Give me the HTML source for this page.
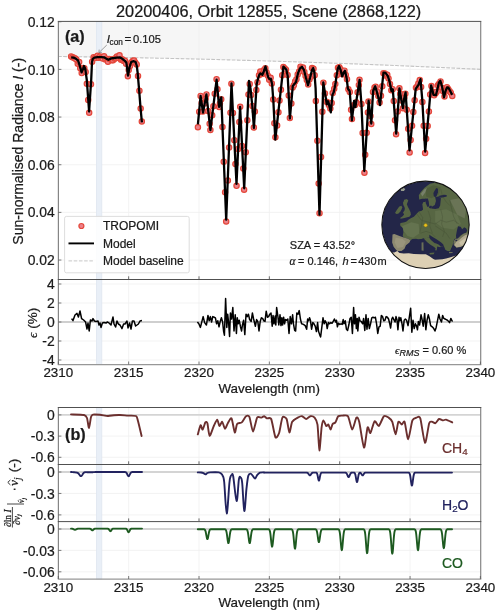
<!DOCTYPE html><html><head><meta charset="utf-8"><style>html,body{margin:0;padding:0;background:#fff;}svg{display:block;will-change:transform;}</style></head><body>
<svg width="500" height="616" viewBox="0 0 500 616" font-family='"Liberation Sans", sans-serif'>
<rect width="500" height="616" fill="#fff"/>
<defs><clipPath id="ca"><rect x="58.4" y="21.4" width="422.3" height="258.1"/></clipPath>
<clipPath id="cr"><rect x="58.4" y="279.5" width="422.3" height="85.0"/></clipPath>
<clipPath id="cg"><circle cx="247.3" cy="254.5" r="237.5"/></clipPath></defs>
<text x="268.6" y="16.8" font-size="16.3" text-anchor="middle" fill="#1a1a1a"  stroke="#1a1a1a" stroke-width="0.22">20200406, Orbit 12855, Scene (2868,122)</text>
<polygon points="58.4,21.4 480.7,21.4 480.7,69.35 470.14,68.84 459.58,68.35 449.03,67.86 438.47,67.38 427.91,66.92 417.36,66.46 406.8,66.01 396.24,65.57 385.68,65.14 375.12,64.72 364.57,64.31 354.01,63.91 343.45,63.52 332.89,63.14 322.34,62.76 311.78,62.4 301.22,62.04 290.67,61.7 280.11,61.36 269.55,61.04 258.99,60.72 248.44,60.41 237.88,60.11 227.32,59.83 216.76,59.55 206.21,59.28 195.65,59.02 185.09,58.76 174.53,58.52 163.97,58.29 153.42,58.07 142.86,57.85 132.3,57.65 121.75,57.45 111.19,57.27 100.63,57.09 90.07,56.93 79.52,56.77 68.96,56.62 58.4,56.48" fill="#f6f6f6"/>
<line x1="58.4" x2="480.7" y1="69.4" y2="69.4" stroke="#f0f0f0" stroke-width="0.8"/>
<line x1="58.4" x2="480.7" y1="117.06" y2="117.06" stroke="#f0f0f0" stroke-width="0.8"/>
<line x1="58.4" x2="480.7" y1="164.72" y2="164.72" stroke="#f0f0f0" stroke-width="0.8"/>
<line x1="58.4" x2="480.7" y1="212.38" y2="212.38" stroke="#f0f0f0" stroke-width="0.8"/>
<line x1="58.4" x2="480.7" y1="260.04" y2="260.04" stroke="#f0f0f0" stroke-width="0.8"/>
<line x1="128.65" x2="128.65" y1="21.4" y2="279.5" stroke="#f0f0f0" stroke-width="0.8"/>
<line x1="128.65" x2="128.65" y1="279.5" y2="364.5" stroke="#f0f0f0" stroke-width="0.8"/>
<line x1="128.65" x2="128.65" y1="407.5" y2="579.0" stroke="#f0f0f0" stroke-width="0.8"/>
<line x1="199" x2="199" y1="21.4" y2="279.5" stroke="#f0f0f0" stroke-width="0.8"/>
<line x1="199" x2="199" y1="279.5" y2="364.5" stroke="#f0f0f0" stroke-width="0.8"/>
<line x1="199" x2="199" y1="407.5" y2="579.0" stroke="#f0f0f0" stroke-width="0.8"/>
<line x1="269.35" x2="269.35" y1="21.4" y2="279.5" stroke="#f0f0f0" stroke-width="0.8"/>
<line x1="269.35" x2="269.35" y1="279.5" y2="364.5" stroke="#f0f0f0" stroke-width="0.8"/>
<line x1="269.35" x2="269.35" y1="407.5" y2="579.0" stroke="#f0f0f0" stroke-width="0.8"/>
<line x1="339.7" x2="339.7" y1="21.4" y2="279.5" stroke="#f0f0f0" stroke-width="0.8"/>
<line x1="339.7" x2="339.7" y1="279.5" y2="364.5" stroke="#f0f0f0" stroke-width="0.8"/>
<line x1="339.7" x2="339.7" y1="407.5" y2="579.0" stroke="#f0f0f0" stroke-width="0.8"/>
<line x1="410.05" x2="410.05" y1="21.4" y2="279.5" stroke="#f0f0f0" stroke-width="0.8"/>
<line x1="410.05" x2="410.05" y1="279.5" y2="364.5" stroke="#f0f0f0" stroke-width="0.8"/>
<line x1="410.05" x2="410.05" y1="407.5" y2="579.0" stroke="#f0f0f0" stroke-width="0.8"/>
<line x1="58.4" x2="480.7" y1="284" y2="284" stroke="#f0f0f0" stroke-width="0.8"/>
<line x1="58.4" x2="480.7" y1="303" y2="303" stroke="#f0f0f0" stroke-width="0.8"/>
<line x1="58.4" x2="480.7" y1="341" y2="341" stroke="#f0f0f0" stroke-width="0.8"/>
<line x1="58.4" x2="480.7" y1="360" y2="360" stroke="#f0f0f0" stroke-width="0.8"/>
<line x1="58.4" x2="480.7" y1="436.1" y2="436.1" stroke="#f0f0f0" stroke-width="0.8"/>
<line x1="58.4" x2="480.7" y1="457.3" y2="457.3" stroke="#f0f0f0" stroke-width="0.8"/>
<line x1="58.4" x2="480.7" y1="493.45" y2="493.45" stroke="#f0f0f0" stroke-width="0.8"/>
<line x1="58.4" x2="480.7" y1="514.9" y2="514.9" stroke="#f0f0f0" stroke-width="0.8"/>
<line x1="58.4" x2="480.7" y1="550.4" y2="550.4" stroke="#f0f0f0" stroke-width="0.8"/>
<line x1="58.4" x2="480.7" y1="571.8" y2="571.8" stroke="#f0f0f0" stroke-width="0.8"/>
<rect x="96.4" y="21.4" width="5.4" height="258.1" fill="#e9eff7" stroke="#dfe6f0" stroke-width="0.8"/>
<rect x="96.4" y="279.5" width="5.4" height="85.0" fill="#e9eff7" stroke="#dfe6f0" stroke-width="0.8"/>
<rect x="96.4" y="407.5" width="5.4" height="171.5" fill="#e9eff7" stroke="#dfe6f0" stroke-width="0.8"/>
<polyline points="58.4,56.48 68.96,56.62 79.52,56.77 90.07,56.93 100.63,57.09 111.19,57.27 121.75,57.45 132.3,57.65 142.86,57.85 153.42,58.07 163.97,58.29 174.53,58.52 185.09,58.76 195.65,59.02 206.21,59.28 216.76,59.55 227.32,59.83 237.88,60.11 248.44,60.41 258.99,60.72 269.55,61.04 280.11,61.36 290.67,61.7 301.22,62.04 311.78,62.4 322.34,62.76 332.89,63.14 343.45,63.52 354.01,63.91 364.57,64.31 375.12,64.72 385.68,65.14 396.24,65.57 406.8,66.01 417.36,66.46 427.91,66.92 438.47,67.38 449.03,67.86 459.58,68.35 470.14,68.84 480.7,69.35" fill="none" stroke="#c4c4c4" stroke-width="1.1" stroke-dasharray="3.75,1.36" stroke-dashoffset="-4.73"/>
<g clip-path="url(#ca)">
<g fill="#ec808a" stroke="#e4473a" stroke-width="1.2">
<circle cx="71.12" cy="56.38" r="2.65"/>
<circle cx="72.54" cy="57.22" r="2.65"/>
<circle cx="73.86" cy="57.87" r="2.65"/>
<circle cx="75.23" cy="58.44" r="2.65"/>
<circle cx="76.36" cy="59.51" r="2.65"/>
<circle cx="77.74" cy="63.81" r="2.65"/>
<circle cx="79.16" cy="62.01" r="2.65"/>
<circle cx="80.26" cy="68.19" r="2.65"/>
<circle cx="81.71" cy="73.12" r="2.65"/>
<circle cx="83.06" cy="67.95" r="2.65"/>
<circle cx="84.34" cy="68.29" r="2.65"/>
<circle cx="85.63" cy="72.04" r="2.65"/>
<circle cx="86.85" cy="83.68" r="2.65"/>
<circle cx="88.21" cy="99.88" r="2.65"/>
<circle cx="89.17" cy="112.76" r="2.65"/>
<circle cx="90.97" cy="84.22" r="2.65"/>
<circle cx="92.12" cy="61.78" r="2.65"/>
<circle cx="93.59" cy="57.17" r="2.65"/>
<circle cx="94.88" cy="58.04" r="2.65"/>
<circle cx="95.99" cy="57.73" r="2.65"/>
<circle cx="97.52" cy="55.81" r="2.65"/>
<circle cx="98.63" cy="57.8" r="2.65"/>
<circle cx="100.01" cy="56.43" r="2.65"/>
<circle cx="101.34" cy="57.87" r="2.65"/>
<circle cx="102.65" cy="58.62" r="2.65"/>
<circle cx="104.06" cy="56.35" r="2.65"/>
<circle cx="105.35" cy="59.62" r="2.65"/>
<circle cx="106.45" cy="58.63" r="2.65"/>
<circle cx="107.97" cy="61.81" r="2.65"/>
<circle cx="109.19" cy="58.89" r="2.65"/>
<circle cx="110.54" cy="59.26" r="2.65"/>
<circle cx="111.81" cy="60.34" r="2.65"/>
<circle cx="113.03" cy="60.15" r="2.65"/>
<circle cx="114.55" cy="58.84" r="2.65"/>
<circle cx="115.59" cy="58.13" r="2.65"/>
<circle cx="116.92" cy="56.51" r="2.65"/>
<circle cx="118.27" cy="57.77" r="2.65"/>
<circle cx="119.51" cy="55.2" r="2.65"/>
<circle cx="120.99" cy="59.64" r="2.65"/>
<circle cx="122.21" cy="59.21" r="2.65"/>
<circle cx="123.68" cy="61.07" r="2.65"/>
<circle cx="125.03" cy="60.74" r="2.65"/>
<circle cx="126.13" cy="63.85" r="2.65"/>
<circle cx="127.86" cy="76.29" r="2.65"/>
<circle cx="128.72" cy="69.89" r="2.65"/>
<circle cx="130.01" cy="66.08" r="2.65"/>
<circle cx="131.29" cy="62.57" r="2.65"/>
<circle cx="132.87" cy="60.78" r="2.65"/>
<circle cx="134.16" cy="60.5" r="2.65"/>
<circle cx="135.36" cy="62.75" r="2.65"/>
<circle cx="136.71" cy="64.38" r="2.65"/>
<circle cx="138.01" cy="75.88" r="2.65"/>
<circle cx="139.41" cy="90.69" r="2.65"/>
<circle cx="140.66" cy="108.6" r="2.65"/>
<circle cx="141.82" cy="121.44" r="2.65"/>
<circle cx="197.91" cy="127.18" r="2.65"/>
<circle cx="199.21" cy="111.74" r="2.65"/>
<circle cx="200.62" cy="95.88" r="2.65"/>
<circle cx="201.65" cy="102.98" r="2.65"/>
<circle cx="202.87" cy="111.57" r="2.65"/>
<circle cx="204.43" cy="103.55" r="2.65"/>
<circle cx="205.64" cy="98.58" r="2.65"/>
<circle cx="206.46" cy="94.38" r="2.65"/>
<circle cx="208.15" cy="110.99" r="2.65"/>
<circle cx="209.63" cy="123.65" r="2.65"/>
<circle cx="210.39" cy="130.01" r="2.65"/>
<circle cx="212.2" cy="115.32" r="2.65"/>
<circle cx="213.41" cy="106.15" r="2.65"/>
<circle cx="214.73" cy="93.86" r="2.65"/>
<circle cx="216.56" cy="79.17" r="2.65"/>
<circle cx="217.44" cy="89.36" r="2.65"/>
<circle cx="219.17" cy="107.04" r="2.65"/>
<circle cx="219.9" cy="103.44" r="2.65"/>
<circle cx="221.22" cy="99.26" r="2.65"/>
<circle cx="222.46" cy="127" r="2.65"/>
<circle cx="223.73" cy="161.65" r="2.65"/>
<circle cx="225.09" cy="192.34" r="2.65"/>
<circle cx="226.18" cy="221.5" r="2.65"/>
<circle cx="227.85" cy="180.57" r="2.65"/>
<circle cx="229.08" cy="147.62" r="2.65"/>
<circle cx="230.45" cy="112.66" r="2.65"/>
<circle cx="231.39" cy="83.74" r="2.65"/>
<circle cx="232.94" cy="112.96" r="2.65"/>
<circle cx="234.33" cy="140.15" r="2.65"/>
<circle cx="235.43" cy="163.99" r="2.65"/>
<circle cx="236.54" cy="185.86" r="2.65"/>
<circle cx="238.21" cy="148.9" r="2.65"/>
<circle cx="239.36" cy="121.96" r="2.65"/>
<circle cx="240.19" cy="106.77" r="2.65"/>
<circle cx="241.99" cy="145.89" r="2.65"/>
<circle cx="243.29" cy="168.56" r="2.65"/>
<circle cx="244.1" cy="189.63" r="2.65"/>
<circle cx="245.76" cy="152.26" r="2.65"/>
<circle cx="247.35" cy="120.32" r="2.65"/>
<circle cx="248.48" cy="94.47" r="2.65"/>
<circle cx="249.71" cy="84.11" r="2.65"/>
<circle cx="251.17" cy="95.06" r="2.65"/>
<circle cx="252.4" cy="105.89" r="2.65"/>
<circle cx="253.84" cy="127.57" r="2.65"/>
<circle cx="254.86" cy="111.57" r="2.65"/>
<circle cx="256.31" cy="90.06" r="2.65"/>
<circle cx="257.45" cy="82.35" r="2.65"/>
<circle cx="259" cy="75.2" r="2.65"/>
<circle cx="260.3" cy="71.51" r="2.65"/>
<circle cx="261.59" cy="73.92" r="2.65"/>
<circle cx="262.85" cy="73.83" r="2.65"/>
<circle cx="263.97" cy="70.11" r="2.65"/>
<circle cx="265.37" cy="68.33" r="2.65"/>
<circle cx="266.64" cy="72.55" r="2.65"/>
<circle cx="267.91" cy="75.87" r="2.65"/>
<circle cx="269.19" cy="79.63" r="2.65"/>
<circle cx="270.64" cy="77.84" r="2.65"/>
<circle cx="271.81" cy="83.44" r="2.65"/>
<circle cx="273.25" cy="99.53" r="2.65"/>
<circle cx="274.35" cy="123.29" r="2.65"/>
<circle cx="275.39" cy="137.3" r="2.65"/>
<circle cx="277.14" cy="125.5" r="2.65"/>
<circle cx="278.45" cy="112.32" r="2.65"/>
<circle cx="279.5" cy="100.42" r="2.65"/>
<circle cx="280.94" cy="89.69" r="2.65"/>
<circle cx="282.21" cy="75.24" r="2.65"/>
<circle cx="283.38" cy="67.05" r="2.65"/>
<circle cx="284.7" cy="68.43" r="2.65"/>
<circle cx="286" cy="69.73" r="2.65"/>
<circle cx="287.57" cy="75.08" r="2.65"/>
<circle cx="288.72" cy="95.42" r="2.65"/>
<circle cx="289.84" cy="118.1" r="2.65"/>
<circle cx="291.36" cy="103.41" r="2.65"/>
<circle cx="292.64" cy="87.56" r="2.65"/>
<circle cx="293.86" cy="85.22" r="2.65"/>
<circle cx="295.1" cy="81.41" r="2.65"/>
<circle cx="296.47" cy="79.18" r="2.65"/>
<circle cx="297.68" cy="74.53" r="2.65"/>
<circle cx="299.13" cy="71.52" r="2.65"/>
<circle cx="300.48" cy="66.64" r="2.65"/>
<circle cx="301.73" cy="68.39" r="2.65"/>
<circle cx="302.97" cy="67.49" r="2.65"/>
<circle cx="304.35" cy="72.09" r="2.65"/>
<circle cx="305.56" cy="75.93" r="2.65"/>
<circle cx="306.81" cy="80.04" r="2.65"/>
<circle cx="308.19" cy="84.4" r="2.65"/>
<circle cx="309.46" cy="79.47" r="2.65"/>
<circle cx="310.76" cy="76.77" r="2.65"/>
<circle cx="312.04" cy="68.1" r="2.65"/>
<circle cx="313.49" cy="68.85" r="2.65"/>
<circle cx="314.66" cy="75.18" r="2.65"/>
<circle cx="315.85" cy="100.94" r="2.65"/>
<circle cx="317.38" cy="140.84" r="2.65"/>
<circle cx="318.65" cy="183.46" r="2.65"/>
<circle cx="319.52" cy="213.15" r="2.65"/>
<circle cx="321.04" cy="156.89" r="2.65"/>
<circle cx="322.35" cy="111.76" r="2.65"/>
<circle cx="323.38" cy="82.86" r="2.65"/>
<circle cx="324.93" cy="93.45" r="2.65"/>
<circle cx="326.46" cy="101.64" r="2.65"/>
<circle cx="327.75" cy="102.6" r="2.65"/>
<circle cx="328.83" cy="105.12" r="2.65"/>
<circle cx="330.34" cy="108.47" r="2.65"/>
<circle cx="331.67" cy="102.94" r="2.65"/>
<circle cx="332.7" cy="93.09" r="2.65"/>
<circle cx="334.21" cy="88.74" r="2.65"/>
<circle cx="335.31" cy="84.01" r="2.65"/>
<circle cx="336.8" cy="75.2" r="2.65"/>
<circle cx="337.97" cy="67.79" r="2.65"/>
<circle cx="339.34" cy="67.19" r="2.65"/>
<circle cx="340.52" cy="69.36" r="2.65"/>
<circle cx="341.84" cy="73.89" r="2.65"/>
<circle cx="343.18" cy="72.64" r="2.65"/>
<circle cx="344.47" cy="70.64" r="2.65"/>
<circle cx="345.78" cy="75.06" r="2.65"/>
<circle cx="346.98" cy="79.17" r="2.65"/>
<circle cx="348.38" cy="89.32" r="2.65"/>
<circle cx="349.78" cy="92.12" r="2.65"/>
<circle cx="351.08" cy="109.81" r="2.65"/>
<circle cx="351.95" cy="119.04" r="2.65"/>
<circle cx="353.64" cy="105.23" r="2.65"/>
<circle cx="355.01" cy="104.91" r="2.65"/>
<circle cx="356.26" cy="102.29" r="2.65"/>
<circle cx="357.61" cy="92.31" r="2.65"/>
<circle cx="358.85" cy="84.96" r="2.65"/>
<circle cx="359.51" cy="79.72" r="2.65"/>
<circle cx="361.4" cy="104.12" r="2.65"/>
<circle cx="362.62" cy="132.91" r="2.65"/>
<circle cx="364.44" cy="172.68" r="2.65"/>
<circle cx="365.21" cy="154.81" r="2.65"/>
<circle cx="366.67" cy="132.82" r="2.65"/>
<circle cx="367.89" cy="112.62" r="2.65"/>
<circle cx="368.46" cy="101.47" r="2.65"/>
<circle cx="370.45" cy="115.91" r="2.65"/>
<circle cx="371.26" cy="123.95" r="2.65"/>
<circle cx="373" cy="91.89" r="2.65"/>
<circle cx="374.5" cy="87.53" r="2.65"/>
<circle cx="375.64" cy="86.73" r="2.65"/>
<circle cx="377.05" cy="91.47" r="2.65"/>
<circle cx="378.34" cy="96.05" r="2.65"/>
<circle cx="379.61" cy="102.51" r="2.65"/>
<circle cx="380.95" cy="95.85" r="2.65"/>
<circle cx="382.28" cy="86.31" r="2.65"/>
<circle cx="383.43" cy="73.31" r="2.65"/>
<circle cx="384.8" cy="73.4" r="2.65"/>
<circle cx="386.08" cy="75.67" r="2.65"/>
<circle cx="387.25" cy="74.78" r="2.65"/>
<circle cx="388.53" cy="78.52" r="2.65"/>
<circle cx="389.98" cy="83.99" r="2.65"/>
<circle cx="391.33" cy="90.31" r="2.65"/>
<circle cx="392.63" cy="89.17" r="2.65"/>
<circle cx="393.76" cy="100.98" r="2.65"/>
<circle cx="394.99" cy="120.32" r="2.65"/>
<circle cx="396.08" cy="134.16" r="2.65"/>
<circle cx="397.66" cy="111.53" r="2.65"/>
<circle cx="399.42" cy="88.24" r="2.65"/>
<circle cx="400.25" cy="93.7" r="2.65"/>
<circle cx="401.58" cy="100.62" r="2.65"/>
<circle cx="402.93" cy="108.17" r="2.65"/>
<circle cx="404.33" cy="97.47" r="2.65"/>
<circle cx="405.38" cy="93.65" r="2.65"/>
<circle cx="406.72" cy="109.71" r="2.65"/>
<circle cx="408.2" cy="128.82" r="2.65"/>
<circle cx="409.62" cy="152.45" r="2.65"/>
<circle cx="410.64" cy="140.08" r="2.65"/>
<circle cx="412.06" cy="125.75" r="2.65"/>
<circle cx="413.33" cy="111.92" r="2.65"/>
<circle cx="414.62" cy="100.27" r="2.65"/>
<circle cx="415.95" cy="87.75" r="2.65"/>
<circle cx="417.31" cy="86.13" r="2.65"/>
<circle cx="418.35" cy="83.53" r="2.65"/>
<circle cx="419.76" cy="80.09" r="2.65"/>
<circle cx="421.11" cy="87.08" r="2.65"/>
<circle cx="422.38" cy="101.9" r="2.65"/>
<circle cx="423.7" cy="125.72" r="2.65"/>
<circle cx="425.1" cy="152.94" r="2.65"/>
<circle cx="426.14" cy="138.85" r="2.65"/>
<circle cx="427.68" cy="125.89" r="2.65"/>
<circle cx="428.91" cy="111.43" r="2.65"/>
<circle cx="430.17" cy="94.57" r="2.65"/>
<circle cx="431.43" cy="86" r="2.65"/>
<circle cx="432.68" cy="91.66" r="2.65"/>
<circle cx="434.1" cy="95.34" r="2.65"/>
<circle cx="435.41" cy="93.39" r="2.65"/>
<circle cx="436.59" cy="91.79" r="2.65"/>
<circle cx="437.86" cy="85.28" r="2.65"/>
<circle cx="439.09" cy="83.63" r="2.65"/>
<circle cx="440.52" cy="81.39" r="2.65"/>
<circle cx="441.78" cy="87.67" r="2.65"/>
<circle cx="443.07" cy="91.36" r="2.65"/>
<circle cx="444.5" cy="96.4" r="2.65"/>
<circle cx="445.67" cy="90.68" r="2.65"/>
<circle cx="446.94" cy="87.15" r="2.65"/>
<circle cx="448.19" cy="89.11" r="2.65"/>
<circle cx="449.67" cy="91.15" r="2.65"/>
<circle cx="450.81" cy="92.86" r="2.65"/>
<circle cx="452.27" cy="95.96" r="2.65"/>
</g>
<polyline points="71.2,57.4 73.6,57.6 76,58.8 78,60.4 79.6,65.2 81.6,72.4 83.2,68.4 84,66 85.2,68.4 86.8,80 89.1,111.5 91.2,80 92,62 92.8,58.8 94.4,57.6 97.6,57.2 101.6,57.2 104,57.3 106,58.4 108.4,59.8 111.2,58.4 114.4,58 116.8,57.6 120,57.4 122.4,58.8 124.8,60.8 126.4,62.8 128,75.6 129.6,66.8 131.2,62 133.6,61.2 135.6,62 136.8,66 137.6,72.4 139.2,90.8 140.5,107.7 141.9,122.4" fill="none" stroke="#000" stroke-width="2.3" stroke-linejoin="round"/>
<polyline points="197.9,124.3 200.6,95.8 203,112.6 206.4,94.4 210.4,130.2 216.6,79.7 219.1,106.8 221.3,97.3 226.2,219.7 231.5,83.5 236.5,183.9 240.1,106.9 244.2,188.3 249,80.9 250.5,88.4 252.3,106 253.9,128 256.7,84 258,78.7 259.3,74.8 260.6,73.4 262.4,74.8 263.7,71.7 265.5,66.4 266.8,71.7 268.1,77 269.5,79.2 270.8,78.7 272.1,84 273.4,101.6 275.3,139.7 283.4,66.6 286.3,69.5 287.7,76.1 289.9,118.5 292.1,93.6 292.8,86 294.8,83.6 296,82 298,73.2 300,68.4 302,66.8 304,70 306,78 308,85.2 310,78 312,70 313.2,68 314.4,72.4 315.6,88.4 319.5,214.7 323.3,82.4 325,93 326.8,104.4 328.1,101.3 329,104.4 330.8,112.3 332.5,94.7 333.8,92.1 335.6,83.3 336.2,78 337.8,68.4 339,66 340.6,70 342.2,76.4 343.8,72.4 345,70.8 346.6,78 347.9,88.6 349.7,91.2 351.9,120.3 354.1,100.9 355.4,107 359.6,79.8 361.5,105 364.3,171 368.6,100.7 371.3,123.5 373.1,91 375.2,86.2 376.9,92 378.7,99 380,105.1 381.8,88.4 383.5,72.6 385.3,72.6 387.9,76.1 389.7,82.2 391.5,91 392.8,89.3 396.2,133.7 399.4,88.3 401.2,99.3 402.9,108.1 404.2,98.5 405.6,92.3 409.5,150.3 415.7,88.8 418.3,85.2 420.5,79.1 422.3,100.2 425.2,151.7 431.1,85.3 432.5,90.4 433.5,94.9 435.9,95.2 437.6,88.4 438.9,82.6 440.3,80.6 442,86.4 444,97.3 445.7,90.4 447.1,87.4 448.5,87.7 450.2,91.1 452.2,94.9" fill="none" stroke="#000" stroke-width="2.3" stroke-linejoin="round"/>
</g>
<text x="64.9" y="41.9" font-size="16.2" text-anchor="start" fill="#1a1a1a" font-weight="bold" stroke="#1a1a1a" stroke-width="0.22">(a)</text>
<line x1="106.8" y1="45" x2="99.4" y2="52.2" stroke="#777" stroke-width="0.7"/>
<polyline points="99.2,49.6 98.9,52.6 101.9,52.3" fill="none" stroke="#777" stroke-width="0.7"/>
<text x="106.7" y="43.2" font-size="11.7" fill="#1a1a1a" font-style="italic" stroke="#1a1a1a" stroke-width="0.22">I</text>
<text x="109.6" y="45.4" font-size="8.2" fill="#1a1a1a" stroke="#1a1a1a" stroke-width="0.22">con</text>
<text x="124.6" y="42.8" font-size="11.7" fill="#1a1a1a" stroke="#1a1a1a" stroke-width="0.22">=</text>
<text x="133" y="42.9" font-size="11.2" fill="#1a1a1a" stroke="#1a1a1a" stroke-width="0.22">0.105</text>
<rect x="64.6" y="216.4" width="124.6" height="56.4" rx="1.8" ry="1.8" fill="#fff" fill-opacity="0.85" stroke="#d9d9d9" stroke-width="0.9"/>
<circle cx="81.4" cy="226" r="2.5" fill="#ec808a" stroke="#e4473a" stroke-width="1.2"/>
<line x1="68.5" x2="94" y1="243.4" y2="243.4" stroke="#000" stroke-width="1.9"/>
<line x1="68.5" x2="94" y1="260.9" y2="260.9" stroke="#c8c8c8" stroke-width="1" stroke-dasharray="3.6,1.6"/>
<text x="103" y="230.3" font-size="12" text-anchor="start" fill="#1a1a1a"  stroke="#1a1a1a" stroke-width="0.22">TROPOMI</text>
<text x="103" y="247.7" font-size="12" text-anchor="start" fill="#1a1a1a"  stroke="#1a1a1a" stroke-width="0.22">Model</text>
<text x="103" y="265.2" font-size="12" text-anchor="start" fill="#1a1a1a"  stroke="#1a1a1a" stroke-width="0.22">Model baseline</text>
<text x="289.8" y="248.6" font-size="11" fill="#1a1a1a" stroke="#1a1a1a" stroke-width="0.22">SZA = 43.52°</text>
<text x="289.6" y="264.7" font-size="11.5" fill="#1a1a1a" font-family="Liberation Serif" font-style="italic" stroke="#1a1a1a" stroke-width="0.22">α</text>
<text x="298" y="264.7" font-size="11" fill="#1a1a1a" stroke="#1a1a1a" stroke-width="0.22">= 0.146,</text>
<text x="342.4" y="264.7" font-size="11" fill="#1a1a1a" font-style="italic" stroke="#1a1a1a" stroke-width="0.22">h</text>
<text x="350.4" y="264.7" font-size="11" fill="#1a1a1a" stroke="#1a1a1a" stroke-width="0.22">=</text>
<text x="358.2" y="264.7" font-size="11" fill="#1a1a1a" stroke="#1a1a1a" stroke-width="0.22">430</text>
<text x="377.6" y="264.7" font-size="11" fill="#1a1a1a" stroke="#1a1a1a" stroke-width="0.22">m</text>
<g transform="translate(380,178) scale(0.18399)">
<g clip-path="url(#cg)">
<circle cx="247.3" cy="254.5" r="237.5" fill="#232648"/>
<polygon fill="#576643" points="213,117 211,94 221,78 241,55 260,39 272,31 292,27 380,30 440,80 480,150 500,260 500,300 476,300 464,304 444,316 423,328 403,332 399,352 392,372 380,398 367,397 355,390 347,370 331,372 315,360 296,353 276,337 268,325 237,327 225,331 211,334 196,330 176,332 166,338 152,330 129,323 123,315 127,295 125,272 111,261 109,249 113,245 133,241 144,237 156,225 170,218 184,210 199,194 211,182 227,178 234,171 230,143 236,131 246,130 250,120 232,121 225,122"/>
<polygon fill="#61704c" points="300,180 360,170 420,200 440,250 400,280 340,270 300,240"/>
<polygon fill="#4e5c3b" points="250,60 290,40 330,50 320,90 280,110 250,100"/>
<polygon fill="#77806a" points="222,85 240,62 255,55 245,80 230,100"/>
<polygon fill="#64734f" points="120,262 170,240 210,250 215,300 180,325 150,315 130,290"/>
<polygon fill="#6a7456" points="380,120 430,110 470,160 460,220 420,200"/>
<polygon fill="#232648" points="306,55 315,59 315,78 308,98 300,104 292,98 290,82 296,70"/>
<polygon fill="#232648" points="300,103 319,101 331,110 329,129 327,149 319,164 300,169 278,166 284,155 298,147 304,125"/>
<polygon fill="#232648" points="245,113 260,111 265,129 268,153 258,157 249,137"/>
<polygon fill="#232648" points="317,98 347,91 362,93 363,101 347,104 329,108"/>
<polygon fill="#232648" points="214,117 229,113 249,113 245,129 229,129 218,125"/>
<polygon fill="#232648" points="268,153 278,150 284,158 276,166 266,162"/>
<polygon fill="#232648" points="424,262 438,265 447,278 458,268 469,274 474,285 469,296 450,305 438,313 424,327 414,329 413,313 418,285"/>
<polygon fill="#77795e" points="412,331 423,329 438,316 455,303 472,297 495,300 495,350 478,352 461,366 438,376 416,380 401,366 400,350 405,336"/>
<polygon fill="#b3ab90" points="414,348 430,337 445,324 460,313 476,306 495,308 495,348 478,350 461,364 438,374 416,377 404,364"/>
<polygon fill="#c8c0a5" points="430,350 450,336 470,322 485,318 480,345 460,358 440,366"/>
<polygon fill="#232648" points="410,337 419,336 419,343 410,344"/>
<polygon fill="#232648" points="150,398 160,370 175,345 200,335 225,332 245,330 252,340 270,360 290,385 300,400 315,405 320,395 310,380 330,375 340,382 352,396 367,401 382,401 393,374 400,366 416,380 438,376 461,366 478,352 495,350 470,388 458,420 420,440 380,446 330,446 290,440 250,420 210,410 170,405"/>
<polygon fill="#232648" points="268,308 284,319 307,333 331,349 343,360 347,368 331,372 315,360 296,353 276,337 268,325"/>
<polygon fill="#576643" points="237,327 268,325 276,337 296,353 315,360 331,372 327,376 311,372 309,388 305,396 300,392 302,382 292,374 272,362 257,349 245,337"/>
<polygon fill="#576643" points="268,407 296,405 292,415 272,416"/>
<polygon fill="#6b7058" points="226,350 236,349 237,395 226,394"/>
<polygon fill="#6b7058" points="375,402 395,401 394,408 376,409"/>
<polygon fill="#232648" points="384,402 394,376 400,368 405,378 416,381 420,400"/>
<polygon fill="#8d8970" points="68,307 78,305 106,315 129,323 152,330 166,338 160,350 141,366 133,385 117,397 94,397 86,389 74,374 66,350"/>
<polygon fill="#9a957c" points="85,325 120,330 140,345 125,375 95,380 80,350"/>
<polygon fill="#576643" points="131,118 146,114 154,122 150,132 146,143 152,157 158,169 166,186 168,200 160,210 148,214 133,218 113,222 109,218 123,208 131,198 125,188 133,177 135,167 133,157 127,147 125,135 129,126"/>
<polygon fill="#576643" points="105,155 117,151 121,161 117,171 111,182 99,194 86,196 84,186 92,173 99,163"/>
<polygon fill="#9a9f90" points="112,62 128,55 138,60 130,70 115,70"/>
<polygon fill="#ddd0b4" points="20,404 78,405 94,397 106,407 129,411 156,409 184,413 223,415 249,415 269,425 290,440 299,444 339,442 359,437 379,432 409,423 429,418 448,410 470,400 500,395 500,540 20,540"/>
<g fill="none" stroke="#3b452f" stroke-width="2" opacity="0.75">
<polyline points="199,194 225,230 262,240 300,250 330,230 360,240 400,230 430,250"/>
<polyline points="211,182 232,215 225,260 215,300"/>
<polyline points="262,178 275,220 270,260 285,300"/>
<polyline points="330,170 340,210 335,250 350,290 340,320"/>
<polyline points="380,120 390,170 400,210 420,250"/>
<polyline points="300,260 330,280 360,300 380,330"/>
<polyline points="220,300 250,290 280,300 300,320"/>
<polyline points="330,60 340,100 360,130 380,150"/>
</g>
</g>
<circle cx="247.3" cy="254.5" r="237.5" fill="none" stroke="#111" stroke-width="5.5"/>
<circle cx="248" cy="257" r="9.5" fill="#e8c21e" stroke="#8a7010" stroke-width="2.5"/>
</g>
<line x1="58.4" x2="480.7" y1="322.0" y2="322.0" stroke="#cfcfcf" stroke-width="2"/>
<g clip-path="url(#cr)">
<polyline points="71.6,318.6 73,320.6 75,315 77,313.4 78.4,317 80,311 81.6,318.6 83.6,320 85.6,322 87,329 88,323 89.2,331 90.4,320 92,321 93,318.6 94.4,321 96,321.4 98,321 99,325 100,323 101,327.4 102.4,323 104,322.6 106,323 107.6,322 109,323 111,325 113,317 114,324 115.6,327 117,321 118.4,324 120,325 122,328.6 123.6,324 125,324 127,321 128,328 129.6,323 131,329 132.4,321 134,321 135.6,326 137,325 138.4,324 140,321 142,320.6" fill="none" stroke="#000" stroke-width="1.5" stroke-linejoin="round"/>
<polyline points="197.4,322.01 198.84,323.81 200.4,327.41 201.6,322.61 203.16,316.61 204.6,322.61 206.4,325.01 207.97,315.41 209.17,320.81 210.37,316.61 211.57,322.01 212.77,316.61 214.21,317.21 215.41,317.81 216.61,323.81 217.81,320.81 219.01,326.81 220.21,321.41 221.41,317.81 222.61,322.01 223.57,331.01 224.41,335.22 225.61,298.6 226.81,327.41 227.65,314.21 228.61,322.61 229.57,336.42 230.41,313.01 231.61,319.01 232.82,307.61 234.02,331.01 235.22,314.81 236.42,333.42 237.26,317.81 238.22,323.81 239.18,320.21 240.38,326.21 241.58,331.01 242.42,325.01 243.62,320.21 244.82,334.62 246.02,314.21 247.22,316.61 248.42,314.21 249.62,319.61 251.18,321.41 252.38,313.01 253.6,319.01 255.4,326.21 256.6,319.61 257.8,321.41 259,331.01 260.2,321.41 261.4,317.81 262.61,318.41 263.81,320.81 265.01,321.41 266.21,311.21 267.41,317.21 268.61,316.61 269.81,314.21 271.01,313.01 272.21,326.21 273.05,315.41 274.01,323.81 275.21,316.01 275.81,325.01 276.65,307.61 277.85,316.01 278.81,325.01 280.01,314.81 280.97,325.61 281.81,317.81 282.65,325.01 283.61,317.21 284.57,323.81 285.41,319.61 286.61,320.21 287.82,319.01 289.02,333.42 290.22,316.61 291.42,323.81 292.62,314.81 293.46,323.81 294.66,330.41 295.62,331.01 296.82,313.01 298.02,314.21 299.22,310.61 300.42,319.01 301.62,323.81 303.42,324.41 305.22,325.61 306.66,329.21 307.64,319.01 308.6,320.81 309.56,317.81 310.4,320.21 311.6,329.21 312.8,322.61 314,323.81 315.2,326.21 316.4,331.61 317.61,322.61 318.45,331.01 319.65,334.62 320.61,337.02 321.81,327.41 323.01,317.81 324.21,323.81 325.17,320.81 326.37,323.21 327.21,328.61 328.41,322.61 329.61,323.81 330.81,322.61 332.01,323.21 333.21,321.41 334.41,319.01 335.61,322.01 336.45,320.21 337.41,326.81 338.37,323.21 339.81,324.41 341.01,323.81 342.21,324.41 343.18,319.61 344.02,323.81 345.22,320.81 346.42,329.21 347.62,330.41 348.82,325.01 350.02,318.41 351.22,317.21 352.42,333.42 353.62,307.61 354.46,323.81 355.42,314.81 356.38,328.61 357.22,318.41 357.82,331.01 359.02,317.21 359.98,320.81 361.18,321.41 362.64,323.81 363.6,318.41 364.8,330.41 366,314.81 366.96,329.21 368.16,318.41 369.36,328.61 370.56,323.81 371.76,317.81 372.97,317.21 374.17,317.81 375.37,317.21 376.57,323.81 377.77,333.42 378.97,326.81 380.17,326.21 381.37,315.41 382.57,316.61 383.77,320.81 384.97,320.21 386.17,316.61 387.37,317.21 388.57,319.01 389.77,323.81 390.61,328.01 391.81,319.01 392.65,317.21 393.85,319.61 395.05,322.01 396.01,316.61 396.97,319.61 397.94,329.81 399.02,317.21 399.86,320.81 400.82,317.81 402.02,323.81 402.98,331.01 404.18,320.21 405.38,319.01 406.58,320.21 408.02,325.61 409.22,317.81 410.66,308.21 411.86,332.21 413,320.21 414.2,328.61 415.4,323.81 416.6,326.21 417.44,329.81 418.4,321.41 419.6,325.01 421.04,314.81 422,319.01 423.21,326.21 424.65,313.61 425.85,329.81 427.05,320.21 428.25,314.81 429.45,319.01 430.65,325.61 432.21,326.81 433.77,328.61 434.97,331.01 436.17,327.41 437.61,320.21 438.81,314.21 440.01,319.01 441.45,322.01 442.65,315.41 443.85,318.41 445.05,319.01 446.25,319.61 447.45,320.21 448.66,321.41 449.62,322.61 450.82,318.41 452.02,320.81 452.62,321.41" fill="none" stroke="#000" stroke-width="1.5" stroke-linejoin="round"/>
</g>
<text x="395" y="354.4" font-size="11" fill="#1a1a1a" stroke="#1a1a1a" stroke-width="0.22"><tspan font-family="Liberation Serif" font-style="italic">ϵ</tspan><tspan font-size="9" dy="2" font-style="italic">RMS</tspan><tspan dy="-2"> = 0.60 %</tspan></text>
<line x1="58.4" x2="480.7" y1="414.9" y2="414.9" stroke="#d4d4d4" stroke-width="1.8"/>
<line x1="58.4" x2="480.7" y1="472" y2="472" stroke="#d4d4d4" stroke-width="1.8"/>
<line x1="58.4" x2="480.7" y1="529" y2="529" stroke="#d4d4d4" stroke-width="1.8"/>
<g fill="none" stroke-width="1.9" stroke-linejoin="round" stroke-linecap="round">
<path d="M71,414.4 C72.52,414.47 82.13,414.58 84,415 C85.87,415.42 86.42,416.48 87,418 C87.58,419.52 88.53,428.12 89,428 C89.47,427.88 90.53,418.56 91,417 C91.47,415.44 91.95,414.86 93,414.6 C94.05,414.34 98.25,414.64 100,414.8 C101.75,414.96 106.37,415.95 108,416 C109.63,416.05 112.6,415.32 114,415.2 C115.4,415.08 118.37,414.95 120,415 C121.63,415.05 126.13,415.48 128,415.6 C129.87,415.72 134.83,415.37 136,416 C137.17,416.63 137.35,418.67 138,421 C138.65,423.33 141.18,434.25 141.6,436" stroke="#6b2f2e"/>
<path d="M197.8,434.4 C198.13,433.33 200.04,425.76 200.6,425.2 C201.16,424.64 202.04,429.93 202.6,429.6 C203.16,429.27 204.84,423.15 205.4,422.4 C205.96,421.65 206.91,421.64 207.4,423.2 C207.89,424.76 208.85,435.47 209.6,435.8 C210.35,436.13 212.91,427.89 213.8,426 C214.69,424.11 216.55,419.6 217.2,419.6 C217.85,419.6 218.82,425.74 219.4,426 C219.98,426.26 221.55,421.47 222.2,421.8 C222.85,422.13 224.35,428.64 225,428.8 C225.65,428.96 227.04,424.41 227.8,423.2 C228.56,421.99 230.68,417.31 231.5,418.4 C232.32,419.48 234.15,431.85 234.8,432.5 C235.45,433.15 236.28,425.18 237.1,424 C237.92,422.82 240.76,423.31 241.8,422.4 C242.84,421.49 245.11,416.85 246,416.2 C246.89,415.55 248.58,415 249.4,416.8 C250.22,418.6 252.09,431.51 253,431.6 C253.91,431.69 256.22,419.23 257.2,417.6 C258.18,415.97 260.58,417.76 261.4,417.6 C262.22,417.44 263.55,416.11 264.2,416.2 C264.85,416.29 266.18,418.07 267,418.4 C267.82,418.73 270.22,416.81 271.2,419 C272.18,421.19 274.48,435.57 275.4,437.2 C276.32,438.83 278.28,435.29 279.1,433 C279.92,430.71 281.52,419.23 282.4,417.6 C283.27,415.97 285.78,417.26 286.6,419 C287.42,420.74 288.75,432.17 289.4,432.5 C290.05,432.83 291.22,423.54 292.2,421.8 C293.18,420.06 296.66,418.25 297.8,417.6 C298.94,416.95 301.02,416.04 302,416.2 C302.98,416.36 305.22,419 306.2,419 C307.18,419 309.42,416.36 310.4,416.2 C311.38,416.04 313.77,416.62 314.6,417.6 C315.43,418.58 316.94,420.77 317.5,424.6 C318.06,428.43 318.92,450.07 319.4,450.4 C319.88,450.73 321.13,430.9 321.6,427.4 C322.07,423.9 322.86,420.56 323.4,420.4 C323.94,420.24 325.62,425.51 326.2,426 C326.78,426.49 327.89,424.18 328.4,424.6 C328.91,425.02 330.11,429.67 330.6,429.6 C331.09,429.53 332.04,424.84 332.6,424 C333.16,423.16 334.75,423.31 335.4,422.4 C336.05,421.49 337.38,416.99 338.2,416.2 C339.02,415.41 341.26,415.6 342.4,415.6 C343.54,415.6 346.86,414.57 348,416.2 C349.14,417.83 351.22,429.44 352.2,429.6 C353.18,429.76 355.58,418.51 356.4,417.6 C357.22,416.69 358.31,418.3 359.2,421.8 C360.09,425.3 363.02,446.95 364,447.6 C364.98,448.25 366.85,429.1 367.6,427.4 C368.35,425.7 369.58,433.72 370.4,433 C371.22,432.28 373.62,422.02 374.6,421.2 C375.58,420.38 377.72,426.58 378.8,426 C379.88,425.42 382.76,417.18 383.9,416.2 C385.04,415.22 387.62,416.95 388.6,417.6 C389.58,418.25 391.48,419.84 392.3,421.8 C393.12,423.76 394.89,434.4 395.6,434.4 C396.31,434.4 397.68,422.94 398.4,421.8 C399.12,420.66 401.08,424.6 401.8,424.6 C402.52,424.6 403.85,420.1 404.6,421.8 C405.35,423.5 407.29,439.36 408.2,439.2 C409.11,439.04 411.42,422.92 412.4,420.4 C413.38,417.88 415.68,417.83 416.6,417.6 C417.52,417.37 419.32,415.46 420.3,418.4 C421.28,421.34 423.96,442.24 425,442.8 C426.04,443.36 428.38,425.65 429.2,423.2 C430.02,420.75 431.28,421.8 432,421.8 C432.72,421.8 434.58,423.53 435.4,423.2 C436.22,422.87 438.09,419.33 439,419 C439.91,418.67 442.38,420.33 443.2,420.4 C444.02,420.47 444.95,419.37 446,419.6 C447.05,419.83 451.48,422.07 452.2,422.4" stroke="#6b2f2e"/>
<polyline points="71,472.04 71.25,472.05 71.5,472.06 71.75,472.07 72,472.08 72.25,472.1 72.5,472.11 72.75,472.13 73,472.15 73.25,472.17 73.5,472.19 73.75,472.22 74,472.25 74.25,472.27 74.5,472.3 74.75,472.33 75,472.37 75.25,472.4 75.5,472.43 75.75,472.46 76,472.5 76.25,472.53 76.5,472.57 76.75,472.62 77,472.68 77.25,472.75 77.5,472.84 77.75,472.96 78,473.11 78.25,473.31 78.5,473.54 78.75,473.82 79,474.13 79.25,474.47 79.5,474.83 79.75,475.19 80,475.52 80.25,475.81 80.5,476.02 80.75,476.14 81,476.17 81.25,476.09 81.5,475.9 81.75,475.64 82,475.3 82.25,474.92 82.5,474.51 82.75,474.11 83,473.73 83.25,473.39 83.5,473.09 83.75,472.84 84,472.64 84.25,472.48 84.5,472.36 84.75,472.28 85,472.22 85.25,472.19 85.5,472.17 85.75,472.16 86,472.16 86.25,472.16 86.5,472.17 86.75,472.18 87,472.19 87.25,472.2 87.5,472.22 87.75,472.23 88,472.24 88.25,472.25 88.5,472.27 88.75,472.28 89,472.28 89.25,472.29 89.5,472.3 89.75,472.3 90,472.3 90.25,472.3 90.5,472.3 90.75,472.29 91,472.28 91.25,472.28 91.5,472.26 91.75,472.25 92,472.24 92.25,472.23 92.5,472.21 92.75,472.2 93,472.18 93.25,472.17 93.5,472.15 93.75,472.14 94,472.12 94.25,472.11 94.5,472.1 94.75,472.09 95,472.07 95.25,472.06 95.5,472.06 95.75,472.05 96,472.04 96.25,472.03 96.5,472.03 96.75,472.02 97,472.02 97.25,472.02 97.5,472.01 97.75,472.01 98,472.01 98.25,472.01 98.5,472.01 98.75,472 99,472 99.25,472 99.5,472 99.75,472 100,472 100.25,472 100.5,472 100.75,472 101,472 101.25,472 101.5,472 101.75,472 102,472 102.25,472 102.5,472 102.75,472 103,472 103.25,472 103.5,472 103.75,472 104,472 104.25,472 104.5,472 104.75,472 105,472 105.25,472 105.5,472 105.75,472 106,472 106.25,472 106.5,472 106.75,472 107,472 107.25,472 107.5,472 107.75,472 108,472 108.25,472 108.5,472 108.75,472 109,472 109.25,472 109.5,472 109.75,472 110,472 110.25,472 110.5,472 110.75,472 111,472 111.25,472 111.5,472 111.75,472 112,472 112.25,472 112.5,472 112.75,472 113,472 113.25,472 113.5,472 113.75,472 114,472 114.25,472 114.5,472 114.75,472 115,472 115.25,472 115.5,472 115.75,472 116,472 116.25,472 116.5,472 116.75,472 117,472 117.25,472 117.5,472 117.75,472 118,472 118.25,472 118.5,472 118.75,472 119,472 119.25,472 119.5,472 119.75,472 120,472 120.25,472 120.5,472 120.75,472 121,472 121.25,472 121.5,472 121.75,472 122,472 122.25,472 122.5,472 122.75,472 123,472 123.25,472 123.5,472 123.75,472 124,472 124.25,472.01 124.5,472.01 124.75,472.02 125,472.05 125.25,472.09 125.5,472.15 125.75,472.25 126,472.4 126.25,472.62 126.5,472.91 126.75,473.28 127,473.73 127.25,474.23 127.5,474.76 127.75,475.27 128,475.71 128.25,476.03 128.5,476.19 128.75,476.17 129,475.97 129.25,475.63 129.5,475.17 129.75,474.65 130,474.13 130.25,473.63 130.5,473.2 130.75,472.84 131,472.57 131.25,472.37 131.5,472.23 131.75,472.13 132,472.08 132.25,472.04 132.5,472.02 132.75,472.01 133,472.01 133.25,472 133.5,472 133.75,472 134,472 134.25,472 134.5,472 134.75,472 135,472 135.25,472 135.5,472 135.75,472 136,472 136.25,472 136.5,472 136.75,472 137,472 137.25,472 137.5,472 137.75,472 138,472 138.25,472 138.5,472 138.75,472 139,472 139.25,472 139.5,472 139.75,472 140,472 140.25,472 140.5,472 140.75,472 141,472 141.25,472 141.5,472 141.75,472 142,472" stroke="#22235f"/>
<path d="M197.8,472.4 C198.33,472.42 200.05,472.37 201,472.5 C201.95,472.63 202.77,472.88 203.5,473.2 C204.23,473.52 204.75,474.43 205.4,474.4 C206.05,474.37 206.63,473.33 207.4,473 C208.17,472.67 208.73,472.53 210,472.4 C211.27,472.27 213.57,472.2 215,472.2 C216.43,472.2 217.6,472.17 218.6,472.4 C219.6,472.63 220.33,473.07 221,473.6 C221.67,474.13 222.07,474.2 222.6,475.6 C223.13,477 223.52,475.67 224.2,482 C224.88,488.33 225.83,513.43 226.7,513.6 C227.57,513.77 228.75,489.18 229.4,483 C230.05,476.82 230.22,477.85 230.6,476.5 C230.98,475.15 231.27,474.95 231.7,474.9 C232.13,474.85 232.38,471.85 233.2,476.2 C234.02,480.55 235.65,500.47 236.6,501 C237.55,501.53 238.22,483.3 238.9,479.4 C239.58,475.5 240.15,477 240.7,477.6 C241.25,478.2 241.6,477.43 242.2,483 C242.8,488.57 243.58,510.1 244.3,511 C245.02,511.9 245.83,494.27 246.5,488.4 C247.17,482.53 247.62,478.27 248.3,475.8 C248.98,473.33 249.85,473.6 250.6,473.6 C251.35,473.6 252.05,474.98 252.8,475.8 C253.55,476.62 254.35,478.65 255.1,478.5 C255.85,478.35 256.48,475.87 257.3,474.9 C258.12,473.93 258.88,473.12 260,472.7 C261.12,472.28 263.33,472.45 264,472.4" stroke="#22235f"/>
<polyline points="264,472.6 264.25,472.6 264.5,472.6 264.75,472.6 265,472.6 265.25,472.6 265.5,472.6 265.75,472.6 266,472.6 266.25,472.6 266.5,472.6 266.75,472.6 267,472.6 267.25,472.6 267.5,472.6 267.75,472.6 268,472.6 268.25,472.6 268.5,472.6 268.75,472.6 269,472.6 269.25,472.6 269.5,472.6 269.75,472.6 270,472.6 270.25,472.6 270.5,472.6 270.75,472.6 271,472.6 271.25,472.6 271.5,472.6 271.75,472.6 272,472.6 272.25,472.6 272.5,472.6 272.75,472.6 273,472.6 273.25,472.6 273.5,472.6 273.75,472.6 274,472.6 274.25,472.6 274.5,472.6 274.75,472.6 275,472.6 275.25,472.6 275.5,472.6 275.75,472.6 276,472.6 276.25,472.6 276.5,472.6 276.75,472.6 277,472.6 277.25,472.6 277.5,472.6 277.75,472.6 278,472.6 278.25,472.6 278.5,472.6 278.75,472.6 279,472.6 279.25,472.6 279.5,472.6 279.75,472.6 280,472.6 280.25,472.6 280.5,472.6 280.75,472.6 281,472.6 281.25,472.6 281.5,472.6 281.75,472.6 282,472.6 282.25,472.6 282.5,472.6 282.75,472.6 283,472.6 283.25,472.6 283.5,472.6 283.75,472.6 284,472.6 284.25,472.6 284.5,472.6 284.75,472.6 285,472.6 285.25,472.6 285.5,472.6 285.75,472.6 286,472.6 286.25,472.6 286.5,472.6 286.75,472.6 287,472.6 287.25,472.6 287.5,472.6 287.75,472.6 288,472.6 288.25,472.6 288.5,472.6 288.75,472.6 289,472.6 289.25,472.6 289.5,472.6 289.75,472.6 290,472.6 290.25,472.6 290.5,472.6 290.75,472.6 291,472.6 291.25,472.6 291.5,472.6 291.75,472.6 292,472.6 292.25,472.6 292.5,472.6 292.75,472.6 293,472.6 293.25,472.6 293.5,472.6 293.75,472.6 294,472.6 294.25,472.6 294.5,472.6 294.75,472.6 295,472.6 295.25,472.6 295.5,472.6 295.75,472.6 296,472.6 296.25,472.6 296.5,472.6 296.75,472.6 297,472.6 297.25,472.6 297.5,472.6 297.75,472.6 298,472.6 298.25,472.6 298.5,472.6 298.75,472.6 299,472.6 299.25,472.6 299.5,472.6 299.75,472.6 300,472.6 300.25,472.6 300.5,472.6 300.75,472.6 301,472.6 301.25,472.6 301.5,472.6 301.75,472.6 302,472.6 302.25,472.6 302.5,472.6 302.75,472.6 303,472.6 303.25,472.6 303.5,472.6 303.75,472.6 304,472.6 304.25,472.6 304.5,472.6 304.75,472.6 305,472.6 305.25,472.6 305.5,472.6 305.75,472.6 306,472.61 306.25,472.61 306.5,472.62 306.75,472.65 307,472.69 307.25,472.75 307.5,472.86 307.75,473.01 308,473.23 308.25,473.51 308.5,473.85 308.75,474.22 309,474.6 309.25,474.95 309.5,475.22 309.75,475.37 310,475.39 310.25,475.26 310.5,475.01 310.75,474.68 311,474.3 311.25,473.92 311.5,473.57 311.75,473.28 312,473.05 312.25,472.89 312.5,472.77 312.75,472.7 313,472.65 313.25,472.63 313.5,472.61 313.75,472.61 314,472.6 314.25,472.6 314.5,472.6 314.75,472.6 315,472.6 315.25,472.6 315.5,472.61 315.75,472.62 316,472.64 316.25,472.7 316.5,472.83 316.75,473.06 317,473.46 317.25,474.09 317.5,474.99 317.75,476.14 318,477.45 318.25,478.76 318.5,479.85 318.75,480.49 319,480.55 319.25,480.02 319.5,479.01 319.75,477.72 320,476.39 320.25,475.2 320.5,474.25 320.75,473.57 321,473.13 321.25,472.86 321.5,472.72 321.75,472.65 322,472.62 322.25,472.61 322.5,472.6 322.75,472.6 323,472.6 323.25,472.6 323.5,472.6 323.75,472.6 324,472.6 324.25,472.6 324.5,472.6 324.75,472.6 325,472.6 325.25,472.6 325.5,472.6 325.75,472.6 326,472.6 326.25,472.6 326.5,472.6 326.75,472.6 327,472.6 327.25,472.6 327.5,472.6 327.75,472.6 328,472.6 328.25,472.6 328.5,472.6 328.75,472.6 329,472.6 329.25,472.6 329.5,472.6 329.75,472.6 330,472.6 330.25,472.6 330.5,472.6 330.75,472.6 331,472.6 331.25,472.6 331.5,472.6 331.75,472.6 332,472.6 332.25,472.6 332.5,472.6 332.75,472.6 333,472.6 333.25,472.6 333.5,472.6 333.75,472.6 334,472.6 334.25,472.6 334.5,472.6 334.75,472.6 335,472.6 335.25,472.6 335.5,472.6 335.75,472.6 336,472.6 336.25,472.6 336.5,472.6 336.75,472.6 337,472.6 337.25,472.6 337.5,472.6 337.75,472.6 338,472.6 338.25,472.6 338.5,472.6 338.75,472.6 339,472.6 339.25,472.6 339.5,472.6 339.75,472.6 340,472.6 340.25,472.6 340.5,472.6 340.75,472.6 341,472.6 341.25,472.6 341.5,472.6 341.75,472.6 342,472.6 342.25,472.6 342.5,472.6 342.75,472.6 343,472.6 343.25,472.6 343.5,472.6 343.75,472.6 344,472.6 344.25,472.6 344.5,472.6 344.75,472.61 345,472.62 345.25,472.64 345.5,472.68 345.75,472.76 346,472.88 346.25,473.06 346.5,473.33 346.75,473.69 347,474.16 347.25,474.72 347.5,475.33 347.75,475.94 348,476.48 348.25,476.88 348.5,477.08 348.75,477.06 349,476.81 349.25,476.38 349.5,475.82 349.75,475.21 350,474.6 350.25,474.06 350.5,473.61 350.75,473.27 351,473.02 351.25,472.85 351.5,472.74 351.75,472.67 352,472.64 352.25,472.62 352.5,472.61 352.75,472.6 353,472.6 353.25,472.6 353.5,472.61 353.75,472.63 354,472.66 354.25,472.74 354.5,472.9 354.75,473.17 355,473.64 355.25,474.34 355.5,475.33 355.75,476.6 356,478.06 356.25,479.56 356.5,480.87 356.75,481.78 357,482.1 357.25,481.78 357.5,480.87 357.75,479.56 358,478.06 358.25,476.6 358.5,475.33 358.75,474.34 359,473.64 359.25,473.19 359.5,472.92 359.75,472.79 360,472.76 360.25,472.8 360.5,472.92 360.75,473.11 361,473.38 361.25,473.73 361.5,474.13 361.75,474.55 362,474.94 362.25,475.23 362.5,475.39 362.75,475.37 363,475.18 363.25,474.87 363.5,474.47 363.75,474.05 364,473.65 364.25,473.32 364.5,473.06 364.75,472.88 365,472.76 365.25,472.68 365.5,472.64 365.75,472.62 366,472.61 366.25,472.6 366.5,472.6 366.75,472.6 367,472.6 367.25,472.6 367.5,472.6 367.75,472.6 368,472.6 368.25,472.6 368.5,472.6 368.75,472.6 369,472.6 369.25,472.6 369.5,472.6 369.75,472.6 370,472.6 370.25,472.6 370.5,472.6 370.75,472.6 371,472.6 371.25,472.6 371.5,472.6 371.75,472.6 372,472.6 372.25,472.6 372.5,472.6 372.75,472.6 373,472.6 373.25,472.6 373.5,472.6 373.75,472.6 374,472.6 374.25,472.6 374.5,472.6 374.75,472.6 375,472.6 375.25,472.6 375.5,472.6 375.75,472.6 376,472.6 376.25,472.6 376.5,472.6 376.75,472.6 377,472.6 377.25,472.6 377.5,472.6 377.75,472.6 378,472.6 378.25,472.6 378.5,472.6 378.75,472.6 379,472.6 379.25,472.6 379.5,472.6 379.75,472.6 380,472.6 380.25,472.6 380.5,472.6 380.75,472.6 381,472.6 381.25,472.6 381.5,472.6 381.75,472.6 382,472.6 382.25,472.6 382.5,472.6 382.75,472.6 383,472.6 383.25,472.6 383.5,472.6 383.75,472.6 384,472.6 384.25,472.6 384.5,472.6 384.75,472.6 385,472.6 385.25,472.6 385.5,472.6 385.75,472.6 386,472.6 386.25,472.6 386.5,472.6 386.75,472.6 387,472.6 387.25,472.6 387.5,472.6 387.75,472.6 388,472.6 388.25,472.6 388.5,472.6 388.75,472.6 389,472.6 389.25,472.6 389.5,472.6 389.75,472.6 390,472.6 390.25,472.6 390.5,472.6 390.75,472.6 391,472.6 391.25,472.6 391.5,472.6 391.75,472.6 392,472.6 392.25,472.6 392.5,472.6 392.75,472.6 393,472.6 393.25,472.6 393.5,472.6 393.75,472.6 394,472.6 394.25,472.6 394.5,472.6 394.75,472.6 395,472.6 395.25,472.6 395.5,472.6 395.75,472.6 396,472.6 396.25,472.6 396.5,472.6 396.75,472.6 397,472.6 397.25,472.6 397.5,472.6 397.75,472.6 398,472.6 398.25,472.6 398.5,472.6 398.75,472.6 399,472.6 399.25,472.6 399.5,472.6 399.75,472.6 400,472.6 400.25,472.6 400.5,472.6 400.75,472.6 401,472.6 401.25,472.6 401.5,472.6 401.75,472.6 402,472.6 402.25,472.6 402.5,472.6 402.75,472.6 403,472.6 403.25,472.6 403.5,472.6 403.75,472.6 404,472.6 404.25,472.6 404.5,472.6 404.75,472.6 405,472.6 405.25,472.6 405.5,472.6 405.75,472.6 406,472.6 406.25,472.6 406.5,472.6 406.75,472.6 407,472.6 407.25,472.6 407.5,472.6 407.75,472.6 408,472.61 408.25,472.62 408.5,472.64 408.75,472.69 409,472.79 409.25,472.99 409.5,473.33 409.75,473.89 410,474.74 410.25,475.93 410.5,477.48 410.75,479.31 411,481.27 411.25,483.12 411.5,484.6 411.75,485.45 412,485.54 412.25,484.83 412.5,483.46 412.75,481.66 413,479.7 413.25,477.83 413.5,476.21 413.75,474.95 414,474.03 414.25,473.42 414.5,473.04 414.75,472.82 415,472.71 415.25,472.65 415.5,472.62 415.75,472.61 416,472.6 416.25,472.6 416.5,472.6 416.75,472.6 417,472.6 417.25,472.6 417.5,472.6 417.75,472.6 418,472.6 418.25,472.6 418.5,472.6 418.75,472.6 419,472.6 419.25,472.6 419.5,472.6 419.75,472.6 420,472.6 420.25,472.6 420.5,472.6 420.75,472.6 421,472.6 421.25,472.6 421.5,472.6 421.75,472.6 422,472.6 422.25,472.6 422.5,472.6 422.75,472.6 423,472.6 423.25,472.6 423.5,472.6 423.75,472.6 424,472.6 424.25,472.6 424.5,472.6 424.75,472.6 425,472.6 425.25,472.6 425.5,472.6 425.75,472.6 426,472.6 426.25,472.6 426.5,472.6 426.75,472.6 427,472.6 427.25,472.6 427.5,472.6 427.75,472.6 428,472.6 428.25,472.6 428.5,472.6 428.75,472.6 429,472.6 429.25,472.6 429.5,472.6 429.75,472.6 430,472.6 430.25,472.6 430.5,472.6 430.75,472.6 431,472.6 431.25,472.6 431.5,472.6 431.75,472.6 432,472.6 432.25,472.6 432.5,472.6 432.75,472.6 433,472.6 433.25,472.6 433.5,472.6 433.75,472.6 434,472.6 434.25,472.6 434.5,472.6 434.75,472.6 435,472.6 435.25,472.6 435.5,472.6 435.75,472.6 436,472.6 436.25,472.6 436.5,472.6 436.75,472.6 437,472.6 437.25,472.6 437.5,472.6 437.75,472.6 438,472.6 438.25,472.6 438.5,472.6 438.75,472.6 439,472.6 439.25,472.6 439.5,472.6 439.75,472.6 440,472.6 440.25,472.6 440.5,472.6 440.75,472.6 441,472.6 441.25,472.6 441.5,472.6 441.75,472.6 442,472.6 442.25,472.6 442.5,472.6 442.75,472.6 443,472.6 443.25,472.6 443.5,472.6 443.75,472.6 444,472.6 444.25,472.6 444.5,472.6 444.75,472.6 445,472.6 445.25,472.6 445.5,472.6 445.75,472.6 446,472.6 446.25,472.6 446.5,472.6 446.75,472.6 447,472.6 447.25,472.6 447.5,472.6 447.75,472.6 448,472.6 448.25,472.6 448.5,472.6 448.75,472.6 449,472.6 449.25,472.6 449.5,472.6 449.75,472.6 450,472.6 450.25,472.6 450.5,472.6 450.75,472.6 451,472.6 451.25,472.6 451.5,472.6 451.75,472.6 452,472.6" stroke="#22235f"/>
<polyline points="71,528.61 71.25,528.62 71.5,528.63 71.75,528.65 72,528.68 72.25,528.73 72.5,528.79 72.75,528.87 73,528.97 73.25,529.08 73.5,529.22 73.75,529.36 74,529.49 74.25,529.62 74.5,529.71 74.75,529.78 75,529.8 75.25,529.78 75.5,529.71 75.75,529.62 76,529.49 76.25,529.36 76.5,529.22 76.75,529.08 77,528.97 77.25,528.87 77.5,528.79 77.75,528.73 78,528.68 78.25,528.65 78.5,528.63 78.75,528.62 79,528.61 79.25,528.61 79.5,528.6 79.75,528.6 80,528.6 80.25,528.6 80.5,528.6 80.75,528.6 81,528.6 81.25,528.6 81.5,528.6 81.75,528.6 82,528.6 82.25,528.6 82.5,528.6 82.75,528.6 83,528.6 83.25,528.6 83.5,528.6 83.75,528.6 84,528.6 84.25,528.6 84.5,528.6 84.75,528.6 85,528.6 85.25,528.6 85.5,528.6 85.75,528.6 86,528.6 86.25,528.6 86.5,528.6 86.75,528.6 87,528.6 87.25,528.6 87.5,528.6 87.75,528.6 88,528.6 88.25,528.6 88.5,528.6 88.75,528.6 89,528.61 89.25,528.61 89.5,528.63 89.75,528.65 90,528.7 90.25,528.78 90.5,528.9 90.75,529.06 91,529.28 91.25,529.53 91.5,529.8 91.75,530.06 92,530.26 92.25,530.38 92.5,530.39 92.75,530.29 93,530.1 93.25,529.85 93.5,529.58 93.75,529.32 94,529.1 94.25,528.93 94.5,528.8 94.75,528.71 95,528.66 95.25,528.63 95.5,528.61 95.75,528.61 96,528.6 96.25,528.6 96.5,528.6 96.75,528.6 97,528.6 97.25,528.6 97.5,528.6 97.75,528.6 98,528.6 98.25,528.6 98.5,528.6 98.75,528.6 99,528.6 99.25,528.6 99.5,528.6 99.75,528.6 100,528.6 100.25,528.6 100.5,528.6 100.75,528.6 101,528.6 101.25,528.6 101.5,528.6 101.75,528.6 102,528.6 102.25,528.6 102.5,528.6 102.75,528.6 103,528.6 103.25,528.6 103.5,528.6 103.75,528.6 104,528.6 104.25,528.6 104.5,528.6 104.75,528.6 105,528.6 105.25,528.6 105.5,528.6 105.75,528.6 106,528.6 106.25,528.6 106.5,528.6 106.75,528.6 107,528.61 107.25,528.62 107.5,528.64 107.75,528.68 108,528.75 108.25,528.86 108.5,529.03 108.75,529.27 109,529.58 109.25,529.94 109.5,530.33 109.75,530.7 110,531 110.25,531.17 110.5,531.19 110.75,531.05 111,530.77 111.25,530.41 111.5,530.02 111.75,529.65 112,529.32 112.25,529.07 112.5,528.89 112.75,528.76 113,528.69 113.25,528.64 113.5,528.62 113.75,528.61 114,528.6 114.25,528.6 114.5,528.6 114.75,528.6 115,528.6 115.25,528.6 115.5,528.6 115.75,528.6 116,528.6 116.25,528.6 116.5,528.6 116.75,528.6 117,528.6 117.25,528.6 117.5,528.6 117.75,528.6 118,528.6 118.25,528.6 118.5,528.6 118.75,528.6 119,528.6 119.25,528.6 119.5,528.6 119.75,528.6 120,528.6 120.25,528.6 120.5,528.6 120.75,528.6 121,528.6 121.25,528.6 121.5,528.6 121.75,528.6 122,528.6 122.25,528.6 122.5,528.6 122.75,528.6 123,528.6 123.25,528.6 123.5,528.6 123.75,528.6 124,528.6 124.25,528.6 124.5,528.6 124.75,528.6 125,528.61 125.25,528.61 125.5,528.63 125.75,528.66 126,528.72 126.25,528.83 126.5,529 126.75,529.25 127,529.6 127.25,530.05 127.5,530.57 127.75,531.11 128,531.61 128.25,531.99 128.5,532.18 128.75,532.16 129,531.92 129.25,531.51 129.5,531 129.75,530.46 130,529.95 130.25,529.52 130.5,529.19 130.75,528.96 131,528.8 131.25,528.71 131.5,528.65 131.75,528.63 132,528.61 132.25,528.6 132.5,528.6 132.75,528.6 133,528.6 133.25,528.6 133.5,528.6 133.75,528.6 134,528.6 134.25,528.6 134.5,528.6 134.75,528.6 135,528.6 135.25,528.6 135.5,528.6 135.75,528.6 136,528.6 136.25,528.6 136.5,528.6 136.75,528.6 137,528.6 137.25,528.6 137.5,528.6 137.75,528.6 138,528.6 138.25,528.6 138.5,528.6 138.75,528.6 139,528.6 139.25,528.6 139.5,528.6 139.75,528.6 140,528.6 140.25,528.6 140.5,528.6 140.75,528.6 141,528.6 141.25,528.6 141.5,528.6 141.75,528.6 142,528.6" stroke="#1d5a20"/>
<polyline points="197.8,529.2 198.05,529.2 198.3,529.2 198.55,529.2 198.8,529.2 199.05,529.2 199.3,529.2 199.55,529.2 199.8,529.2 200.05,529.2 200.3,529.2 200.55,529.2 200.8,529.2 201.05,529.2 201.3,529.2 201.55,529.2 201.8,529.2 202.05,529.2 202.3,529.2 202.55,529.2 202.8,529.2 203.05,529.2 203.3,529.2 203.55,529.21 203.8,529.23 204.05,529.26 204.3,529.33 204.55,529.45 204.8,529.67 205.05,530.02 205.3,530.55 205.55,531.32 205.8,532.33 206.05,533.58 206.3,534.98 206.55,536.41 206.8,537.69 207.05,538.66 207.3,539.15 207.55,539.1 207.8,538.5 208.05,537.46 208.3,536.13 208.55,534.69 208.8,533.31 209.05,532.11 209.3,531.15 209.55,530.43 209.8,529.93 210.05,529.61 210.3,529.42 210.55,529.31 210.8,529.25 211.05,529.22 211.3,529.21 211.55,529.2 211.8,529.2 212.05,529.2 212.3,529.2 212.55,529.2 212.8,529.2 213.05,529.2 213.3,529.2 213.55,529.2 213.8,529.2 214.05,529.2 214.3,529.2 214.55,529.2 214.8,529.2 215.05,529.2 215.3,529.2 215.55,529.2 215.8,529.2 216.05,529.2 216.3,529.2 216.55,529.2 216.8,529.2 217.05,529.2 217.3,529.2 217.55,529.2 217.8,529.2 218.05,529.2 218.3,529.2 218.55,529.2 218.8,529.2 219.05,529.2 219.3,529.2 219.55,529.2 219.8,529.2 220.05,529.2 220.3,529.2 220.55,529.2 220.8,529.2 221.05,529.2 221.3,529.2 221.55,529.2 221.8,529.2 222.05,529.2 222.3,529.2 222.55,529.2 222.8,529.2 223.05,529.2 223.3,529.2 223.55,529.2 223.8,529.2 224.05,529.2 224.3,529.21 224.55,529.22 224.8,529.24 225.05,529.29 225.3,529.38 225.55,529.55 225.8,529.85 226.05,530.34 226.3,531.09 226.55,532.17 226.8,533.58 227.05,535.33 227.3,537.29 227.55,539.29 227.8,541.09 228.05,542.44 228.3,543.14 228.55,543.06 228.8,542.22 229.05,540.76 229.3,538.9 229.55,536.89 229.8,534.96 230.05,533.27 230.3,531.92 230.55,530.92 230.8,530.23 231.05,529.78 231.3,529.51 231.55,529.36 231.8,529.27 232.05,529.23 232.3,529.21 232.55,529.21 232.8,529.2 233.05,529.2 233.3,529.2 233.55,529.2 233.8,529.2 234.05,529.2 234.3,529.2 234.55,529.2 234.8,529.2 235.05,529.2 235.3,529.2 235.55,529.2 235.8,529.2 236.05,529.2 236.3,529.2 236.55,529.2 236.8,529.2 237.05,529.2 237.3,529.2 237.55,529.2 237.8,529.2 238.05,529.2 238.3,529.2 238.55,529.2 238.8,529.2 239.05,529.2 239.3,529.2 239.55,529.2 239.8,529.2 240.05,529.2 240.3,529.2 240.55,529.2 240.8,529.2 241.05,529.2 241.3,529.2 241.55,529.2 241.8,529.2 242.05,529.2 242.3,529.2 242.55,529.2 242.8,529.2 243.05,529.2 243.3,529.2 243.55,529.2 243.8,529.2 244.05,529.2 244.3,529.2 244.55,529.2 244.8,529.2 245.05,529.2 245.3,529.2 245.55,529.21 245.8,529.21 246.05,529.23 246.3,529.27 246.55,529.36 246.8,529.51 247.05,529.78 247.3,530.23 247.55,530.92 247.8,531.92 248.05,533.27 248.3,534.96 248.55,536.89 248.8,538.9 249.05,540.76 249.3,542.22 249.55,543.06 249.8,543.14 250.05,542.44 250.3,541.09 250.55,539.29 250.8,537.29 251.05,535.33 251.3,533.58 251.55,532.17 251.8,531.09 252.05,530.34 252.3,529.85 252.55,529.55 252.8,529.38 253.05,529.29 253.3,529.24 253.55,529.22 253.8,529.21 254.05,529.2 254.3,529.2 254.55,529.2 254.8,529.2 255.05,529.2 255.3,529.2 255.55,529.2 255.8,529.2 256.05,529.2 256.3,529.2 256.55,529.2 256.8,529.2 257.05,529.2 257.3,529.2 257.55,529.2 257.8,529.2 258.05,529.2 258.3,529.2 258.55,529.2 258.8,529.2 259.05,529.2 259.3,529.2 259.55,529.2 259.8,529.2 260.05,529.2 260.3,529.2 260.55,529.2 260.8,529.2 261.05,529.2 261.3,529.2 261.55,529.2 261.8,529.2 262.05,529.2 262.3,529.2 262.55,529.2 262.8,529.2 263.05,529.2 263.3,529.2 263.55,529.2 263.8,529.2 264.05,529.2 264.3,529.2 264.55,529.2 264.8,529.2 265.05,529.2 265.3,529.2 265.55,529.2 265.8,529.2 266.05,529.2 266.3,529.2 266.55,529.2 266.8,529.2 267.05,529.2 267.3,529.2 267.55,529.2 267.8,529.2 268.05,529.21 268.3,529.23 268.55,529.26 268.8,529.33 269.05,529.46 269.3,529.7 269.55,530.12 269.8,530.79 270.05,531.8 270.3,533.23 270.55,535.09 270.8,537.33 271.05,539.81 271.3,542.29 271.55,544.46 271.8,546 272.05,546.68 272.3,546.39 272.55,545.16 272.8,543.21 273.05,540.82 273.3,538.31 273.55,535.94 273.8,533.92 274.05,532.32 274.3,531.15 274.55,530.35 274.8,529.84 275.05,529.54 275.3,529.37 275.55,529.28 275.8,529.24 276.05,529.21 276.3,529.21 276.55,529.2 276.8,529.2 277.05,529.2 277.3,529.2 277.55,529.2 277.8,529.2 278.05,529.2 278.3,529.2 278.55,529.2 278.8,529.2 279.05,529.2 279.3,529.2 279.55,529.2 279.8,529.2 280.05,529.2 280.3,529.2 280.55,529.2 280.8,529.2 281.05,529.2 281.3,529.2 281.55,529.2 281.8,529.2 282.05,529.2 282.3,529.2 282.55,529.2 282.8,529.2 283.05,529.2 283.3,529.2 283.55,529.2 283.8,529.2 284.05,529.2 284.3,529.2 284.55,529.2 284.8,529.2 285.05,529.2 285.3,529.2 285.55,529.2 285.8,529.2 286.05,529.2 286.3,529.2 286.55,529.2 286.8,529.2 287.05,529.2 287.3,529.2 287.55,529.2 287.8,529.2 288.05,529.2 288.3,529.2 288.55,529.2 288.8,529.2 289.05,529.2 289.3,529.2 289.55,529.2 289.8,529.2 290.05,529.2 290.3,529.2 290.55,529.2 290.8,529.21 291.05,529.22 291.3,529.24 291.55,529.29 291.8,529.39 292.05,529.58 292.3,529.91 292.55,530.48 292.8,531.37 293.05,532.68 293.3,534.46 293.55,536.71 293.8,539.35 294.05,542.15 294.3,544.81 294.55,546.99 294.8,548.35 295.05,548.68 295.3,547.92 295.55,546.2 295.8,543.79 296.05,541.03 296.3,538.26 296.55,535.76 296.8,533.69 297.05,532.1 297.3,530.97 297.55,530.22 297.8,529.76 298.05,529.49 298.3,529.34 298.55,529.26 298.8,529.23 299.05,529.21 299.3,529.2 299.55,529.2 299.8,529.2 300.05,529.2 300.3,529.2 300.55,529.2 300.8,529.2 301.05,529.2 301.3,529.2 301.55,529.2 301.8,529.2 302.05,529.2 302.3,529.2 302.55,529.2 302.8,529.2 303.05,529.2 303.3,529.2 303.55,529.2 303.8,529.2 304.05,529.2 304.3,529.2 304.55,529.2 304.8,529.2 305.05,529.2 305.3,529.2 305.55,529.2 305.8,529.2 306.05,529.2 306.3,529.2 306.55,529.2 306.8,529.2 307.05,529.2 307.3,529.2 307.55,529.2 307.8,529.2 308.05,529.2 308.3,529.2 308.55,529.2 308.8,529.2 309.05,529.2 309.3,529.2 309.55,529.2 309.8,529.2 310.05,529.2 310.3,529.2 310.55,529.2 310.8,529.2 311.05,529.2 311.3,529.2 311.55,529.2 311.8,529.2 312.05,529.2 312.3,529.2 312.55,529.2 312.8,529.2 313.05,529.2 313.3,529.2 313.55,529.2 313.8,529.2 314.05,529.2 314.3,529.2 314.55,529.2 314.8,529.21 315.05,529.22 315.3,529.24 315.55,529.28 315.8,529.37 316.05,529.53 316.3,529.81 316.55,530.26 316.8,530.96 317.05,531.95 317.3,533.27 317.55,534.89 317.8,536.71 318.05,538.57 318.3,540.24 318.55,541.5 318.8,542.14 319.05,542.07 319.3,541.29 319.55,539.93 319.8,538.2 320.05,536.34 320.3,534.54 320.55,532.98 320.8,531.73 321.05,530.8 321.3,530.15 321.55,529.74 321.8,529.49 322.05,529.34 322.3,529.27 322.55,529.23 322.8,529.21 323.05,529.21 323.3,529.2 323.55,529.2 323.8,529.2 324.05,529.2 324.3,529.2 324.55,529.2 324.8,529.2 325.05,529.2 325.3,529.2 325.55,529.2 325.8,529.2 326.05,529.2 326.3,529.2 326.55,529.2 326.8,529.2 327.05,529.2 327.3,529.2 327.55,529.2 327.8,529.2 328.05,529.2 328.3,529.2 328.55,529.2 328.8,529.2 329.05,529.2 329.3,529.2 329.55,529.2 329.8,529.2 330.05,529.2 330.3,529.2 330.55,529.2 330.8,529.2 331.05,529.2 331.3,529.2 331.55,529.2 331.8,529.2 332.05,529.2 332.3,529.2 332.55,529.2 332.8,529.2 333.05,529.2 333.3,529.2 333.55,529.2 333.8,529.2 334.05,529.2 334.3,529.2 334.55,529.2 334.8,529.2 335.05,529.2 335.3,529.2 335.55,529.2 335.8,529.2 336.05,529.2 336.3,529.2 336.55,529.2 336.8,529.2 337.05,529.2 337.3,529.2 337.55,529.21 337.8,529.21 338.05,529.24 338.3,529.28 338.55,529.37 338.8,529.55 339.05,529.88 339.3,530.43 339.55,531.31 339.8,532.62 340.05,534.44 340.3,536.77 340.55,539.54 340.8,542.54 341.05,545.47 341.3,547.95 341.55,549.61 341.8,550.2 342.05,549.61 342.3,547.95 342.55,545.47 342.8,542.54 343.05,539.54 343.3,536.77 343.55,534.44 343.8,532.62 344.05,531.31 344.3,530.43 344.55,529.88 344.8,529.55 345.05,529.37 345.3,529.28 345.55,529.24 345.8,529.21 346.05,529.21 346.3,529.2 346.55,529.2 346.8,529.2 347.05,529.2 347.3,529.2 347.55,529.2 347.8,529.2 348.05,529.2 348.3,529.2 348.55,529.2 348.8,529.2 349.05,529.2 349.3,529.2 349.55,529.2 349.8,529.2 350.05,529.2 350.3,529.2 350.55,529.2 350.8,529.2 351.05,529.2 351.3,529.2 351.55,529.2 351.8,529.2 352.05,529.2 352.3,529.2 352.55,529.2 352.8,529.2 353.05,529.2 353.3,529.2 353.55,529.2 353.8,529.2 354.05,529.2 354.3,529.2 354.55,529.2 354.8,529.2 355.05,529.2 355.3,529.2 355.55,529.2 355.8,529.2 356.05,529.2 356.3,529.2 356.55,529.2 356.8,529.2 357.05,529.2 357.3,529.2 357.55,529.2 357.8,529.2 358.05,529.2 358.3,529.2 358.55,529.2 358.8,529.2 359.05,529.2 359.3,529.2 359.55,529.2 359.8,529.2 360.05,529.2 360.3,529.2 360.55,529.2 360.8,529.2 361.05,529.2 361.3,529.2 361.55,529.2 361.8,529.2 362.05,529.2 362.3,529.2 362.55,529.2 362.8,529.21 363.05,529.21 363.3,529.23 363.55,529.28 363.8,529.37 364.05,529.55 364.3,529.89 364.55,530.46 364.8,531.38 365.05,532.77 365.3,534.72 365.55,537.27 365.8,540.35 366.05,543.76 366.3,547.15 366.55,550.12 366.8,552.24 367.05,553.17 367.3,552.77 367.55,551.09 367.8,548.42 368.05,545.14 368.3,541.69 368.55,538.45 368.8,535.67 369.05,533.48 369.3,531.87 369.55,530.78 369.8,530.08 370.05,529.66 370.3,529.43 370.55,529.31 370.8,529.25 371.05,529.22 371.3,529.21 371.55,529.2 371.8,529.2 372.05,529.2 372.3,529.2 372.55,529.2 372.8,529.2 373.05,529.2 373.3,529.2 373.55,529.2 373.8,529.2 374.05,529.2 374.3,529.2 374.55,529.2 374.8,529.2 375.05,529.2 375.3,529.2 375.55,529.2 375.8,529.2 376.05,529.2 376.3,529.2 376.55,529.2 376.8,529.2 377.05,529.2 377.3,529.2 377.55,529.2 377.8,529.2 378.05,529.2 378.3,529.2 378.55,529.2 378.8,529.2 379.05,529.2 379.3,529.2 379.55,529.2 379.8,529.2 380.05,529.2 380.3,529.2 380.55,529.2 380.8,529.2 381.05,529.2 381.3,529.2 381.55,529.2 381.8,529.2 382.05,529.2 382.3,529.2 382.55,529.2 382.8,529.2 383.05,529.2 383.3,529.2 383.55,529.2 383.8,529.2 384.05,529.2 384.3,529.2 384.55,529.2 384.8,529.2 385.05,529.2 385.3,529.2 385.55,529.2 385.8,529.2 386.05,529.2 386.3,529.2 386.55,529.2 386.8,529.2 387.05,529.2 387.3,529.2 387.55,529.2 387.8,529.2 388.05,529.21 388.3,529.22 388.55,529.24 388.8,529.29 389.05,529.4 389.3,529.61 389.55,529.99 389.8,530.64 390.05,531.67 390.3,533.19 390.55,535.31 390.8,538.03 391.05,541.26 391.3,544.77 391.55,548.18 391.8,551.07 392.05,553.02 392.3,553.7 392.55,553.02 392.8,551.07 393.05,548.18 393.3,544.77 393.55,541.26 393.8,538.03 394.05,535.31 394.3,533.19 394.55,531.67 394.8,530.64 395.05,529.99 395.3,529.61 395.55,529.4 395.8,529.29 396.05,529.24 396.3,529.22 396.55,529.21 396.8,529.2 397.05,529.2 397.3,529.2 397.55,529.2 397.8,529.2 398.05,529.2 398.3,529.2 398.55,529.2 398.8,529.2 399.05,529.2 399.3,529.2 399.55,529.2 399.8,529.2 400.05,529.2 400.3,529.2 400.55,529.2 400.8,529.2 401.05,529.2 401.3,529.2 401.55,529.2 401.8,529.2 402.05,529.2 402.3,529.2 402.55,529.2 402.8,529.2 403.05,529.2 403.3,529.2 403.55,529.2 403.8,529.2 404.05,529.2 404.3,529.2 404.55,529.2 404.8,529.2 405.05,529.2 405.3,529.2 405.55,529.2 405.8,529.2 406.05,529.2 406.3,529.2 406.55,529.2 406.8,529.2 407.05,529.2 407.3,529.2 407.55,529.2 407.8,529.2 408.05,529.2 408.3,529.2 408.55,529.2 408.8,529.2 409.05,529.2 409.3,529.2 409.55,529.2 409.8,529.2 410.05,529.2 410.3,529.2 410.55,529.2 410.8,529.2 411.05,529.2 411.3,529.2 411.55,529.2 411.8,529.2 412.05,529.2 412.3,529.2 412.55,529.2 412.8,529.2 413.05,529.2 413.3,529.2 413.55,529.2 413.8,529.21 414.05,529.22 414.3,529.24 414.55,529.3 414.8,529.4 415.05,529.61 415.3,529.97 415.55,530.58 415.8,531.54 416.05,532.94 416.3,534.86 416.55,537.29 416.8,540.13 417.05,543.15 417.3,546.02 417.55,548.36 417.8,549.82 418.05,550.18 418.3,549.36 418.55,547.51 418.8,544.91 419.05,541.94 419.3,538.96 419.55,536.26 419.8,534.03 420.05,532.32 420.3,531.11 420.55,530.3 420.8,529.8 421.05,529.51 421.3,529.35 421.55,529.27 421.8,529.23 422.05,529.21 422.3,529.2 422.55,529.2 422.8,529.2 423.05,529.2 423.3,529.2 423.55,529.2 423.8,529.2 424.05,529.2 424.3,529.2 424.55,529.2 424.8,529.2 425.05,529.2 425.3,529.2 425.55,529.2 425.8,529.2 426.05,529.2 426.3,529.2 426.55,529.2 426.8,529.2 427.05,529.2 427.3,529.2 427.55,529.2 427.8,529.2 428.05,529.2 428.3,529.2 428.55,529.2 428.8,529.2 429.05,529.2 429.3,529.2 429.55,529.2 429.8,529.2 430.05,529.2 430.3,529.2 430.55,529.2 430.8,529.2 431.05,529.2 431.3,529.2 431.55,529.2 431.8,529.2 432.05,529.2 432.3,529.2 432.55,529.2 432.8,529.2 433.05,529.2 433.3,529.2 433.55,529.2 433.8,529.2 434.05,529.2 434.3,529.2 434.55,529.2 434.8,529.2 435.05,529.2 435.3,529.2 435.55,529.2 435.8,529.2 436.05,529.2 436.3,529.2 436.55,529.2 436.8,529.2 437.05,529.2 437.3,529.2 437.55,529.2 437.8,529.2 438.05,529.2 438.3,529.2 438.55,529.2 438.8,529.2 439.05,529.2 439.3,529.2 439.55,529.21 439.8,529.21 440.05,529.23 440.3,529.27 440.55,529.36 440.8,529.52 441.05,529.82 441.3,530.32 441.55,531.11 441.8,532.3 442.05,533.94 442.3,536.05 442.55,538.55 442.8,541.27 443.05,543.92 443.3,546.16 443.55,547.67 443.8,548.2 444.05,547.67 444.3,546.16 444.55,543.92 444.8,541.27 445.05,538.55 445.3,536.05 445.55,533.94 445.8,532.3 446.05,531.11 446.3,530.32 446.55,529.82 446.8,529.52 447.05,529.36 447.3,529.27 447.55,529.23 447.8,529.21 448.05,529.21 448.3,529.2 448.55,529.2 448.8,529.2 449.05,529.2 449.3,529.2 449.55,529.2 449.8,529.2 450.05,529.2 450.3,529.2 450.55,529.2 450.8,529.2 451.05,529.2 451.3,529.2 451.55,529.2 451.8,529.2 452.05,529.2" stroke="#1d5a20"/>
</g>
<text x="65.1" y="439.9" font-size="16.2" text-anchor="start" fill="#1a1a1a" font-weight="bold" stroke="#1a1a1a" stroke-width="0.22">(b)</text>
<text x="442" y="453.2" font-size="14" fill="#6b2f2e" stroke="#6b2f2e" stroke-width="0.22">CH<tspan font-size="9.8" dy="2.2">4</tspan></text>
<text x="442" y="510.2" font-size="14" fill="#22235f" stroke="#22235f" stroke-width="0.22">H<tspan font-size="9.8" dy="2.2">2</tspan><tspan dy="-2.2">O</tspan></text>
<text x="442" y="567.6" font-size="14" fill="#1d5a20" stroke="#1d5a20" stroke-width="0.22">CO</text>
<line x1="58.4" x2="58.4" y1="21.4" y2="364.5" stroke="#858585" stroke-width="1.2"/>
<line x1="480.7" x2="480.7" y1="21.4" y2="364.5" stroke="#858585" stroke-width="1.2"/>
<line x1="58.4" x2="58.4" y1="407.5" y2="579.0" stroke="#858585" stroke-width="1.2"/>
<line x1="480.7" x2="480.7" y1="407.5" y2="579.0" stroke="#858585" stroke-width="1.2"/>
<line x1="57.8" x2="481.3" y1="21.4" y2="21.4" stroke="#505050" stroke-width="1"/>
<line x1="57.8" x2="481.3" y1="279.5" y2="279.5" stroke="#505050" stroke-width="1"/>
<line x1="57.8" x2="481.3" y1="407.5" y2="407.5" stroke="#505050" stroke-width="1"/>
<line x1="57.8" x2="481.3" y1="464.5" y2="464.5" stroke="#505050" stroke-width="1"/>
<line x1="57.8" x2="481.3" y1="521.6" y2="521.6" stroke="#505050" stroke-width="1"/>
<line x1="57.8" x2="481.3" y1="364.6" y2="364.6" stroke="#979797" stroke-width="1.4"/>
<line x1="57.8" x2="481.3" y1="579.1" y2="579.1" stroke="#979797" stroke-width="1.4"/>
<line x1="58.4" x2="61.4" y1="21.74" y2="21.74" stroke="#5a5a5a" stroke-width="0.8"/>
<text x="54.7" y="26.84" font-size="13.9" text-anchor="end" fill="#1a1a1a"  stroke="#1a1a1a" stroke-width="0.22">0.12</text>
<line x1="58.4" x2="61.4" y1="69.4" y2="69.4" stroke="#5a5a5a" stroke-width="0.8"/>
<text x="54.7" y="74.5" font-size="13.9" text-anchor="end" fill="#1a1a1a"  stroke="#1a1a1a" stroke-width="0.22">0.10</text>
<line x1="58.4" x2="61.4" y1="117.06" y2="117.06" stroke="#5a5a5a" stroke-width="0.8"/>
<text x="54.7" y="122.16" font-size="13.9" text-anchor="end" fill="#1a1a1a"  stroke="#1a1a1a" stroke-width="0.22">0.08</text>
<line x1="58.4" x2="61.4" y1="164.72" y2="164.72" stroke="#5a5a5a" stroke-width="0.8"/>
<text x="54.7" y="169.82" font-size="13.9" text-anchor="end" fill="#1a1a1a"  stroke="#1a1a1a" stroke-width="0.22">0.06</text>
<line x1="58.4" x2="61.4" y1="212.38" y2="212.38" stroke="#5a5a5a" stroke-width="0.8"/>
<text x="54.7" y="217.48" font-size="13.9" text-anchor="end" fill="#1a1a1a"  stroke="#1a1a1a" stroke-width="0.22">0.04</text>
<line x1="58.4" x2="61.4" y1="260.04" y2="260.04" stroke="#5a5a5a" stroke-width="0.8"/>
<text x="54.7" y="265.14" font-size="13.9" text-anchor="end" fill="#1a1a1a"  stroke="#1a1a1a" stroke-width="0.22">0.02</text>
<line x1="58.4" x2="61.4" y1="284" y2="284" stroke="#5a5a5a" stroke-width="0.8"/>
<text x="54.7" y="289.1" font-size="13.9" text-anchor="end" fill="#1a1a1a"  stroke="#1a1a1a" stroke-width="0.22">4</text>
<line x1="58.4" x2="61.4" y1="303" y2="303" stroke="#5a5a5a" stroke-width="0.8"/>
<text x="54.7" y="308.1" font-size="13.9" text-anchor="end" fill="#1a1a1a"  stroke="#1a1a1a" stroke-width="0.22">2</text>
<line x1="58.4" x2="61.4" y1="322" y2="322" stroke="#5a5a5a" stroke-width="0.8"/>
<text x="54.7" y="327.1" font-size="13.9" text-anchor="end" fill="#1a1a1a"  stroke="#1a1a1a" stroke-width="0.22">0</text>
<line x1="58.4" x2="61.4" y1="341" y2="341" stroke="#5a5a5a" stroke-width="0.8"/>
<text x="54.7" y="346.1" font-size="13.9" text-anchor="end" fill="#1a1a1a"  stroke="#1a1a1a" stroke-width="0.22">-2</text>
<line x1="58.4" x2="61.4" y1="360" y2="360" stroke="#5a5a5a" stroke-width="0.8"/>
<text x="54.7" y="365.1" font-size="13.9" text-anchor="end" fill="#1a1a1a"  stroke="#1a1a1a" stroke-width="0.22">-4</text>
<line x1="58.4" x2="61.4" y1="414.9" y2="414.9" stroke="#5a5a5a" stroke-width="0.8"/>
<text x="54.7" y="420" font-size="13.9" text-anchor="end" fill="#1a1a1a"  stroke="#1a1a1a" stroke-width="0.22">0</text>
<line x1="58.4" x2="61.4" y1="436.1" y2="436.1" stroke="#5a5a5a" stroke-width="0.8"/>
<text x="54.7" y="441.2" font-size="13.9" text-anchor="end" fill="#1a1a1a"  stroke="#1a1a1a" stroke-width="0.22">-0.3</text>
<line x1="58.4" x2="61.4" y1="457.3" y2="457.3" stroke="#5a5a5a" stroke-width="0.8"/>
<text x="54.7" y="462.4" font-size="13.9" text-anchor="end" fill="#1a1a1a"  stroke="#1a1a1a" stroke-width="0.22">-0.6</text>
<line x1="58.4" x2="61.4" y1="472" y2="472" stroke="#5a5a5a" stroke-width="0.8"/>
<text x="54.7" y="477.1" font-size="13.9" text-anchor="end" fill="#1a1a1a"  stroke="#1a1a1a" stroke-width="0.22">0</text>
<line x1="58.4" x2="61.4" y1="493.45" y2="493.45" stroke="#5a5a5a" stroke-width="0.8"/>
<text x="54.7" y="498.55" font-size="13.9" text-anchor="end" fill="#1a1a1a"  stroke="#1a1a1a" stroke-width="0.22">-0.3</text>
<line x1="58.4" x2="61.4" y1="514.9" y2="514.9" stroke="#5a5a5a" stroke-width="0.8"/>
<text x="54.7" y="520" font-size="13.9" text-anchor="end" fill="#1a1a1a"  stroke="#1a1a1a" stroke-width="0.22">-0.6</text>
<line x1="58.4" x2="61.4" y1="529" y2="529" stroke="#5a5a5a" stroke-width="0.8"/>
<text x="54.7" y="534.1" font-size="13.9" text-anchor="end" fill="#1a1a1a"  stroke="#1a1a1a" stroke-width="0.22">0</text>
<line x1="58.4" x2="61.4" y1="550.4" y2="550.4" stroke="#5a5a5a" stroke-width="0.8"/>
<text x="54.7" y="555.5" font-size="13.9" text-anchor="end" fill="#1a1a1a"  stroke="#1a1a1a" stroke-width="0.22">-0.03</text>
<line x1="58.4" x2="61.4" y1="571.8" y2="571.8" stroke="#5a5a5a" stroke-width="0.8"/>
<text x="54.7" y="576.9" font-size="13.9" text-anchor="end" fill="#1a1a1a"  stroke="#1a1a1a" stroke-width="0.22">-0.06</text>
<line x1="58.3" x2="58.3" y1="361.5" y2="364.5" stroke="#5a5a5a" stroke-width="0.8"/>
<text x="58.3" y="377.2" font-size="13.4" text-anchor="middle" fill="#1a1a1a"  stroke="#1a1a1a" stroke-width="0.22">2310</text>
<line x1="128.65" x2="128.65" y1="361.5" y2="364.5" stroke="#5a5a5a" stroke-width="0.8"/>
<text x="128.65" y="377.2" font-size="13.4" text-anchor="middle" fill="#1a1a1a"  stroke="#1a1a1a" stroke-width="0.22">2315</text>
<line x1="199" x2="199" y1="361.5" y2="364.5" stroke="#5a5a5a" stroke-width="0.8"/>
<text x="199" y="377.2" font-size="13.4" text-anchor="middle" fill="#1a1a1a"  stroke="#1a1a1a" stroke-width="0.22">2320</text>
<line x1="269.35" x2="269.35" y1="361.5" y2="364.5" stroke="#5a5a5a" stroke-width="0.8"/>
<text x="269.35" y="377.2" font-size="13.4" text-anchor="middle" fill="#1a1a1a"  stroke="#1a1a1a" stroke-width="0.22">2325</text>
<line x1="339.7" x2="339.7" y1="361.5" y2="364.5" stroke="#5a5a5a" stroke-width="0.8"/>
<text x="339.7" y="377.2" font-size="13.4" text-anchor="middle" fill="#1a1a1a"  stroke="#1a1a1a" stroke-width="0.22">2330</text>
<line x1="410.05" x2="410.05" y1="361.5" y2="364.5" stroke="#5a5a5a" stroke-width="0.8"/>
<text x="410.05" y="377.2" font-size="13.4" text-anchor="middle" fill="#1a1a1a"  stroke="#1a1a1a" stroke-width="0.22">2335</text>
<line x1="480.4" x2="480.4" y1="361.5" y2="364.5" stroke="#5a5a5a" stroke-width="0.8"/>
<text x="480.4" y="377.2" font-size="13.4" text-anchor="middle" fill="#1a1a1a"  stroke="#1a1a1a" stroke-width="0.22">2340</text>
<line x1="58.3" x2="58.3" y1="576.0" y2="579.0" stroke="#5a5a5a" stroke-width="0.8"/>
<text x="58.3" y="591.8" font-size="13.4" text-anchor="middle" fill="#1a1a1a"  stroke="#1a1a1a" stroke-width="0.22">2310</text>
<line x1="128.65" x2="128.65" y1="576.0" y2="579.0" stroke="#5a5a5a" stroke-width="0.8"/>
<text x="128.65" y="591.8" font-size="13.4" text-anchor="middle" fill="#1a1a1a"  stroke="#1a1a1a" stroke-width="0.22">2315</text>
<line x1="199" x2="199" y1="576.0" y2="579.0" stroke="#5a5a5a" stroke-width="0.8"/>
<text x="199" y="591.8" font-size="13.4" text-anchor="middle" fill="#1a1a1a"  stroke="#1a1a1a" stroke-width="0.22">2320</text>
<line x1="269.35" x2="269.35" y1="576.0" y2="579.0" stroke="#5a5a5a" stroke-width="0.8"/>
<text x="269.35" y="591.8" font-size="13.4" text-anchor="middle" fill="#1a1a1a"  stroke="#1a1a1a" stroke-width="0.22">2325</text>
<line x1="339.7" x2="339.7" y1="576.0" y2="579.0" stroke="#5a5a5a" stroke-width="0.8"/>
<text x="339.7" y="591.8" font-size="13.4" text-anchor="middle" fill="#1a1a1a"  stroke="#1a1a1a" stroke-width="0.22">2330</text>
<line x1="410.05" x2="410.05" y1="576.0" y2="579.0" stroke="#5a5a5a" stroke-width="0.8"/>
<text x="410.05" y="591.8" font-size="13.4" text-anchor="middle" fill="#1a1a1a"  stroke="#1a1a1a" stroke-width="0.22">2335</text>
<line x1="480.4" x2="480.4" y1="576.0" y2="579.0" stroke="#5a5a5a" stroke-width="0.8"/>
<text x="480.4" y="591.8" font-size="13.4" text-anchor="middle" fill="#1a1a1a"  stroke="#1a1a1a" stroke-width="0.22">2340</text>
<line x1="128.65" x2="128.65" y1="276.3" y2="279.5" stroke="#5a5a5a" stroke-width="0.9"/>
<line x1="199" x2="199" y1="276.3" y2="279.5" stroke="#5a5a5a" stroke-width="0.9"/>
<line x1="269.35" x2="269.35" y1="276.3" y2="279.5" stroke="#5a5a5a" stroke-width="0.9"/>
<line x1="339.7" x2="339.7" y1="276.3" y2="279.5" stroke="#5a5a5a" stroke-width="0.9"/>
<line x1="410.05" x2="410.05" y1="276.3" y2="279.5" stroke="#5a5a5a" stroke-width="0.9"/>
<line x1="128.65" x2="128.65" y1="461.3" y2="464.5" stroke="#5a5a5a" stroke-width="0.9"/>
<line x1="199" x2="199" y1="461.3" y2="464.5" stroke="#5a5a5a" stroke-width="0.9"/>
<line x1="269.35" x2="269.35" y1="461.3" y2="464.5" stroke="#5a5a5a" stroke-width="0.9"/>
<line x1="339.7" x2="339.7" y1="461.3" y2="464.5" stroke="#5a5a5a" stroke-width="0.9"/>
<line x1="410.05" x2="410.05" y1="461.3" y2="464.5" stroke="#5a5a5a" stroke-width="0.9"/>
<line x1="128.65" x2="128.65" y1="518.4" y2="521.6" stroke="#5a5a5a" stroke-width="0.9"/>
<line x1="199" x2="199" y1="518.4" y2="521.6" stroke="#5a5a5a" stroke-width="0.9"/>
<line x1="269.35" x2="269.35" y1="518.4" y2="521.6" stroke="#5a5a5a" stroke-width="0.9"/>
<line x1="339.7" x2="339.7" y1="518.4" y2="521.6" stroke="#5a5a5a" stroke-width="0.9"/>
<line x1="410.05" x2="410.05" y1="518.4" y2="521.6" stroke="#5a5a5a" stroke-width="0.9"/>
<text x="269.2" y="392.6" font-size="13.4" text-anchor="middle" fill="#1a1a1a"  stroke="#1a1a1a" stroke-width="0.22">Wavelength (nm)</text>
<text x="269.2" y="607.4" font-size="13.4" text-anchor="middle" fill="#1a1a1a"  stroke="#1a1a1a" stroke-width="0.22">Wavelength (nm)</text>
<text transform="translate(23.1,151.3) rotate(-90)" font-size="14" text-anchor="middle" fill="#1a1a1a" stroke="#1a1a1a" stroke-width="0.22">Sun-normalised Radiance <tspan font-style="italic">I</tspan> (-)</text>
<text transform="translate(37.4,322.8) rotate(-90)" font-size="13.5" text-anchor="middle" fill="#1a1a1a" stroke="#1a1a1a" stroke-width="0.22"><tspan font-family="Liberation Serif" font-style="italic">ϵ</tspan> (%)</text>
<g transform="translate(16,493.5) rotate(-90)" fill="#1a1a1a">
<text x="-33.5" y="-4.6" font-size="9.5" font-family="Liberation Serif" font-style="italic" stroke="#1a1a1a" stroke-width="0.22">∂<tspan font-style="normal">ln</tspan> I</text>
<line x1="-34" x2="-13.5" y1="-3.6" y2="-3.6" stroke="#1a1a1a" stroke-width="0.8"/>
<text x="-31.5" y="3.6" font-size="9.5" font-family="Liberation Serif" font-style="italic" stroke="#1a1a1a" stroke-width="0.22">∂v<tspan font-size="6.5" dy="1.6">j</tspan></text>
<line x1="-10.5" x2="-10.5" y1="-9" y2="8" stroke="#1a1a1a" stroke-width="0.8"/>
<text x="-9.6" y="8.2" font-size="8" font-family="Liberation Serif" font-style="italic" stroke="#1a1a1a" stroke-width="0.22">v<tspan font-size="5.6" dy="1.3">j</tspan></text>
<polyline points="-8.9,3.4 -7.4,1.9 -5.9,3.4" fill="none" stroke="#1a1a1a" stroke-width="0.6"/>
<text x="2" y="2.2" font-size="13" stroke="#1a1a1a" stroke-width="0.22">·</text>
<text x="7.5" y="2.2" font-size="13.5" font-family="Liberation Serif" font-style="italic" stroke="#1a1a1a" stroke-width="0.22">v<tspan font-size="9.5" dy="2.4">j</tspan></text>
<polyline points="8.6,-5.6 11.1,-8.2 13.6,-5.6" fill="none" stroke="#1a1a1a" stroke-width="0.9"/>
<text x="21.2" y="2.4" font-size="13.5" stroke="#1a1a1a" stroke-width="0.22">(-)</text>
</g>
</svg></body></html>
